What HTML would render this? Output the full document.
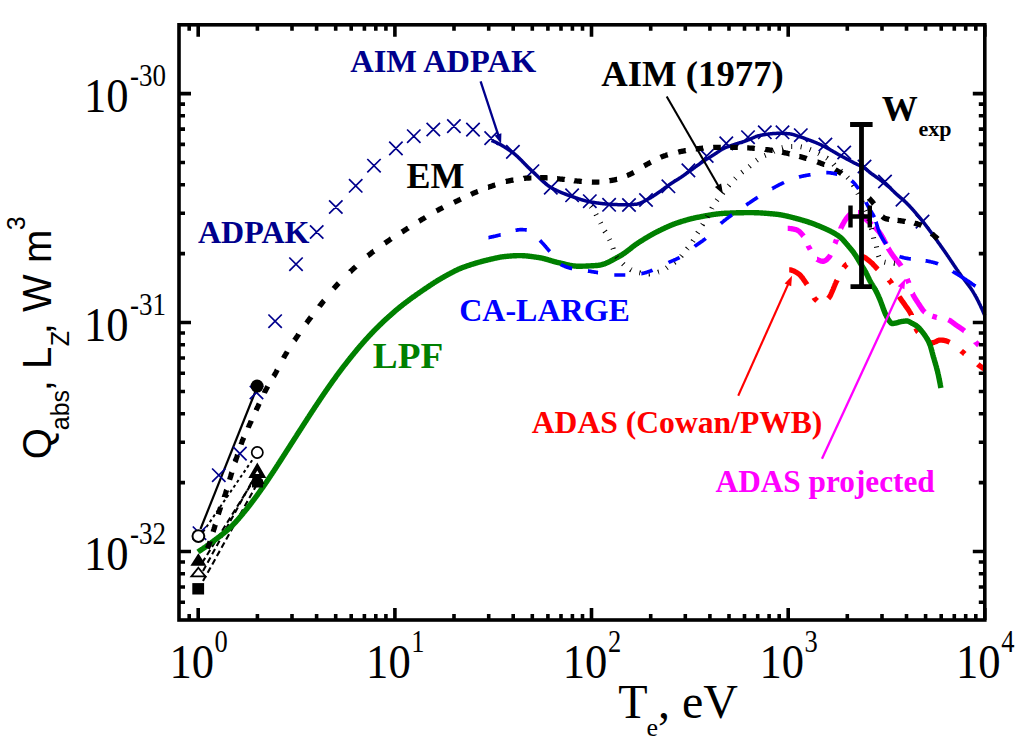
<!DOCTYPE html>
<html><head><meta charset="utf-8"><title>Radiated power</title>
<style>
html,body{margin:0;padding:0;background:#fff;width:1024px;height:746px;overflow:hidden}
svg{display:block}
</style></head>
<body>
<svg width="1024" height="746" viewBox="0 0 1024 746">
<rect width="1024" height="746" fill="#fff"/>
<path d="M200.5 529L256 390" stroke="#000" stroke-width="2.2" fill="none"/>
<path d="M203 532L253 459" stroke="#000" stroke-width="2" stroke-dasharray="3 3" fill="none"/>
<path d="M202 563L255 478" stroke="#000" stroke-width="2.1" stroke-dasharray="6 3.5" fill="none"/>
<path d="M203 571L255 476" stroke="#000" stroke-width="2.1" stroke-dasharray="6 3.5" fill="none"/>
<path d="M203 581L256 486" stroke="#000" stroke-width="2.1" stroke-dasharray="6 3.5" fill="none"/>
<path d="M789.2 269.8L789.2 269.8L789.5 269.8L789.7 269.8L789.9 269.8L790.2 269.9L790.4 269.9L790.7 269.9L790.9 270L791.2 270.1L791.4 270.1L791.7 270.2L791.9 270.3L792.1 270.3L792.4 270.4L792.6 270.5L792.8 270.6L793.1 270.7L793.3 270.8L793.5 270.9L793.8 271L794 271.1L794.2 271.2L794.4 271.3L794.7 271.5L794.9 271.6L795.1 271.7L795.3 271.8L795.5 271.9L795.8 272.1L796 272.2L796.2 272.3L796.4 272.4L796.6 272.6L796.8 272.7L797 272.8L797.3 272.9L797.5 273.1L797.7 273.2L797.9 273.3L798.1 273.5L798.3 273.6L798.5 273.8L798.7 273.9L798.9 274.1L799.1 274.2L799.3 274.4L799.5 274.6L799.7 274.7L799.9 274.9L800 275.1L800.2 275.3L800.4 275.4L800.6 275.6L800.7 275.8L800.9 276L801 276.2L801.2 276.4L801.4 276.6L801.5 276.8L801.7 277L801.8 277.2L802 277.3L802.2 277.5L802.3 277.7L802.5 277.9L802.6 278.1L802.8 278.3L802.9 278.5L803.1 278.8L803.2 279L803.3 279.2L803.5 279.4L803.6 279.6L803.8 279.8L803.9 280L804.1 280.2L804.2 280.4L804.3 280.6L804.5 280.8L804.6 281L804.8 281.2L804.9 281.4L805.1 281.6L805.2 281.8L805.3 282L805.5 282.3L805.6 282.5L805.8 282.7L805.9 282.9L806 283.1L806.2 283.3L806.3 283.5L806.5 283.7L806.6 283.9L806.7 284.1L806.9 284.3L807 284.5M828.3 298.5L828.4 298.4L828.6 298.2L828.7 298L828.9 297.8L829 297.6L829.2 297.4L829.3 297.2L829.5 297L829.6 296.8L829.7 296.6L829.9 296.4L830 296.2L830.1 295.9L830.2 295.7L830.3 295.5L830.5 295.3L830.6 295L830.7 294.8L830.8 294.6L830.9 294.4L831 294.1L831.1 293.9L831.2 293.7L831.3 293.5L831.4 293.2L831.5 293L831.6 292.8L831.7 292.6L831.8 292.3L831.9 292.1L832 291.9L832.1 291.6L832.2 291.4L832.3 291.2L832.4 290.9L832.5 290.7L832.6 290.5L832.7 290.3L832.8 290L832.9 289.8L833 289.6L833.1 289.3L833.2 289.1L833.3 288.9L833.4 288.6L833.5 288.4L833.6 288.2L833.7 287.9L833.8 287.7L833.9 287.5L834 287.2L834.1 287L834.1 286.8L834.2 286.5L834.3 286.3L834.4 286.1L834.5 285.8L834.6 285.6L834.7 285.4L834.8 285.1L834.9 284.9L835 284.7L835.1 284.5L835.2 284.2L835.3 284L835.4 283.8L835.5 283.5L835.6 283.3L835.7 283.1L835.8 282.8L835.9 282.6L836 282.4L836.1 282.2L836.2 281.9L836.3 281.7L836.4 281.5L836.5 281.3L836.6 281L836.7 280.8L836.9 280.6L837 280.4L837.1 280.1L837.1 280.1M862 256.8L862 256.8L862.3 256.8L862.5 256.8L862.8 256.8L863 256.8L863.3 256.9L863.5 256.9L863.7 257L864 257.1L864.2 257.2L864.4 257.3L864.7 257.4L864.9 257.5L865.1 257.6L865.3 257.8L865.5 257.9L865.7 258L865.9 258.2L866.1 258.3L866.3 258.5L866.5 258.6L866.7 258.8L866.9 259L867.1 259.1L867.3 259.3L867.5 259.4L867.7 259.6L867.9 259.8L868.1 259.9L868.3 260.1L868.5 260.2L868.7 260.4L868.8 260.6L869 260.7L869.2 260.9L869.4 261L869.6 261.2L869.8 261.4L870 261.5L870.2 261.7L870.4 261.8L870.6 262L870.8 262.1L871 262.3L871.2 262.5L871.3 262.6L871.5 262.8L871.7 263L871.9 263.2L872.1 263.3L872.2 263.5L872.4 263.7L872.6 263.9L872.8 264L872.9 264.2L873.1 264.4L873.3 264.6L873.5 264.8L873.6 265L873.8 265.1L874 265.3L874.1 265.5L874.3 265.7L874.5 265.9L874.7 266.1L874.8 266.2L875 266.4L875.2 266.6L875.3 266.8L875.5 267L875.7 267.2L875.8 267.4L876 267.5L876.2 267.7L876.4 267.9L876.5 268.1L876.7 268.3L876.9 268.4L877 268.6L877.2 268.8L877.4 269L877.6 269.2L877.7 269.3L877.8 269.4M899.1 296.6L899.1 296.6L899.3 296.9L899.4 297.1L899.5 297.3L899.7 297.5L899.8 297.7L900 297.9L900.1 298.1L900.2 298.3L900.4 298.5L900.5 298.7L900.7 298.9L900.8 299.1L901 299.3L901.1 299.5L901.3 299.7L901.4 299.9L901.5 300.2L901.7 300.4L901.8 300.6L902 300.8L902.1 301L902.3 301.2L902.4 301.4L902.6 301.6L902.7 301.8L902.9 302L903 302.2L903.2 302.4L903.3 302.6L903.5 302.8L903.6 303L903.7 303.2L903.9 303.4L904 303.6L904.2 303.8L904.3 304L904.5 304.2L904.6 304.4L904.8 304.6L904.9 304.8L905 305L905.2 305.3L905.3 305.5L905.5 305.7L905.6 305.9L905.7 306.1L905.9 306.3L906 306.5L906.2 306.7L906.3 306.9L906.5 307.1L906.6 307.3L906.8 307.5L906.9 307.7L907 307.9L907.2 308.1L907.3 308.3L907.5 308.5L907.6 308.7L907.8 308.9L907.9 309.1L908.1 309.4L908.2 309.6L908.3 309.8L908.5 310L908.6 310.2L908.8 310.4L908.9 310.6L909 310.8L909.2 311L909.3 311.2L909.4 311.4L909.6 311.7L909.7 311.9L909.8 312.1L909.9 312.3L910.1 312.5L910.2 312.7L910.3 313L910.4 313.2L910.6 313.4L910.7 313.6L910.8 313.8L910.9 314.1L911 314.3L911.1 314.5L911.3 314.7L911.4 314.9L911.4 315M930.8 342.8L931 342.9L931.2 342.9L931.5 342.9L931.7 342.9L932 342.9L932.2 342.8L932.5 342.8L932.7 342.7L933 342.7L933.2 342.6L933.4 342.5L933.7 342.4L933.9 342.4L934.1 342.3L934.4 342.2L934.6 342.1L934.9 342L935.1 342L935.3 341.9L935.6 341.8L935.8 341.7L936 341.6L936.2 341.5L936.5 341.4L936.7 341.2L936.9 341.1L937.1 341L937.3 340.9L937.6 340.8L937.8 340.7L938 340.5L938.2 340.4L938.5 340.3L938.7 340.3L938.9 340.2L939.2 340.1L939.4 340.1L939.7 340L939.9 340L940.2 340L940.4 340L940.7 340L940.9 340L941.2 340L941.4 340.1L941.7 340.1L941.9 340.1L942.2 340.1L942.4 340.2L942.7 340.2L942.9 340.2L943.2 340.3L943.4 340.3L943.7 340.4L943.9 340.4L944.2 340.4L944.4 340.5L944.7 340.5L944.9 340.6L945.1 340.6L945.4 340.7L945.6 340.7L945.9 340.8L946.1 340.9L946.4 340.9L946.6 341L946.8 341.1L947.1 341.2L947.3 341.3L947.5 341.4L947.8 341.5L948 341.6L948.2 341.7L948.5 341.8L948.7 341.9L948.9 342L949.1 342.1L949.4 342.2L949.6 342.3L949.6 342.3M977.8 364.4L977.9 364.5L978.1 364.7L978.3 364.8L978.5 364.9L978.7 365.1L978.9 365.2L979.1 365.4L979.4 365.5L979.6 365.7L979.8 365.8L980 366L980.2 366.1L980.4 366.3L980.6 366.4L980.8 366.6L981 366.7L981.2 366.8L981.4 367L981.6 367.1L981.8 367.3L982 367.4L982.2 367.6L982.4 367.7L982.6 367.8L982.8 368L983 368.1L983.3 368.3L983.5 368.4L983.7 368.5L983.9 368.7L984.1 368.8L984.3 369L984.5 369.1L984.5 369.1M814 297.6L814.1 297.8L814.2 298L814.4 298.2L814.5 298.4L814.7 298.6L814.9 298.8L815 298.9L815.2 299.1L815.4 299.3L815.6 299.5L815.8 299.6L816 299.8L816.1 300L816.3 300.1L816.5 300.3L816.7 300.4L816.9 300.6L817.1 300.8M843.8 267.6L844 267.4L844.1 267.1L844.3 266.9L844.4 266.7L844.6 266.6L844.7 266.4L844.9 266.2L845 266L845.2 265.8L845.4 265.6L845.6 265.4L845.7 265.2L845.9 265.1L846.1 264.9L846.2 264.7L846.4 264.5L846.6 264.3L846.8 264.2M889.1 280L889.2 280.2L889.4 280.3L889.5 280.5L889.7 280.7L889.9 280.9L890 281.1L890.2 281.3L890.3 281.5L890.5 281.7L890.7 281.9L890.8 282.1L891 282.3L891.1 282.5L891.2 282.7L891.4 282.9L891.5 283.1L891.7 283.3L891.8 283.5M915.9 328.2L916 328.4L916.1 328.7L916.2 328.9L916.3 329.1L916.4 329.4L916.5 329.6L916.6 329.8L916.7 330L916.8 330.3L917 330.5L917.1 330.7L917.2 330.9L917.4 331.1L917.5 331.3L917.6 331.5L917.8 331.7L917.9 331.9L918.1 332.1M961.2 350.9L961.4 351.1L961.6 351.3L961.8 351.4L962 351.6L962.2 351.7L962.4 351.9L962.6 352.1L962.8 352.2L963 352.4L963.2 352.5L963.4 352.7L963.5 352.8L963.7 353L963.9 353.1L964.1 353.3L964.3 353.5L964.5 353.6L964.7 353.8" fill="none" stroke="#ff0000" stroke-width="5.2"/>
<path d="M198 551.9L198.4 551.6L198.8 551.4L199.3 551.1L199.7 550.8L200.1 550.5L200.5 550.3L200.9 550L201.3 549.7L201.8 549.4L202.2 549.1L202.6 548.9L203 548.6L203.4 548.3L203.8 548L204.2 547.7L204.7 547.5L205.1 547.2L205.5 546.9L205.9 546.6L206.3 546.3L206.7 546L207.1 545.7L207.5 545.4L207.9 545.2L208.3 544.9L208.8 544.6L209.2 544.3L209.6 544L210 543.7L210.4 543.4L210.8 543.1L211.2 542.8L211.6 542.5L212 542.2L212.4 541.9L212.8 541.6L213.2 541.3L213.6 541L214 540.7L214.4 540.4L214.8 540.1L215.2 539.8L215.6 539.5L216 539.2L216.4 538.9L216.8 538.6L217.2 538.3L217.6 538L218 537.7L218.4 537.4L218.8 537.1L219.2 536.8L219.6 536.5L220 536.2L220.4 535.9L220.8 535.6L221.2 535.3L221.5 534.9L221.9 534.6L222.3 534.3L222.7 534L223.1 533.7L223.5 533.4L223.9 533.1L224.3 532.7L224.7 532.4L225 532.1L225.4 531.8L225.8 531.5L226.2 531.1L226.6 530.8L226.9 530.5L227.3 530.2L227.7 529.8L228.1 529.5L228.4 529.2L228.8 528.8L229.2 528.5L229.6 528.1L229.9 527.8L230.3 527.5L230.7 527.1L231 526.8L231.4 526.4L231.7 526.1L232.1 525.7L232.5 525.4L232.8 525L233.2 524.7L233.5 524.3L233.9 523.9L234.2 523.6L234.5 523.2L234.9 522.9L235.2 522.5L235.6 522.1L235.9 521.8L236.2 521.4L236.6 521L236.9 520.6L237.2 520.3L237.6 519.9L237.9 519.5L238.2 519.1L238.6 518.8L238.9 518.4L239.2 518L239.5 517.6L239.9 517.2L240.2 516.9L240.5 516.5L240.8 516.1L241.2 515.7L241.5 515.3L241.8 514.9L242.1 514.6L242.4 514.2L242.8 513.8L243.1 513.4L243.4 513L243.7 512.6L244 512.2L244.4 511.9L244.7 511.5L245 511.1L245.3 510.7L245.6 510.3L245.9 509.9L246.2 509.5L246.6 509.1L246.9 508.8L247.2 508.4L247.5 508L247.8 507.6L248.1 507.2L248.4 506.8L248.8 506.4L249.1 506L249.4 505.6L249.7 505.2L250 504.8L250.3 504.4L250.6 504L250.9 503.6L251.2 503.2L251.5 502.8L251.8 502.4L252.1 502L252.4 501.6L252.7 501.2L253 500.8L253.3 500.4L253.6 500L253.9 499.6L254.2 499.2L254.5 498.8L254.8 498.4L255.1 498L255.4 497.6L255.7 497.2L256 496.8L256.3 496.4L256.6 496L256.9 495.6L257.2 495.2L257.5 494.8L257.7 494.4L258 494L258.3 493.6L258.6 493.2L258.9 492.8L259.2 492.3L259.5 491.9L259.8 491.5L260.1 491.1L260.4 490.7L260.7 490.3L260.9 489.9L261.2 489.5L261.5 489.1L261.8 488.7L262.1 488.3L262.4 487.9L262.7 487.5L263 487L263.3 486.6L263.5 486.2L263.8 485.8L264.1 485.4L264.4 485L264.7 484.6L265 484.2L265.2 483.7L265.5 483.3L265.8 482.9L266.1 482.5L266.4 482.1L266.7 481.7L266.9 481.3L267.2 480.9L267.5 480.4L267.8 480L268.1 479.6L268.3 479.2L268.6 478.8L268.9 478.4L269.2 477.9L269.4 477.5L269.7 477.1L270 476.7L270.3 476.3L270.5 475.9L270.8 475.4L271.1 475L271.4 474.6L271.7 474.2L271.9 473.8L272.2 473.4L272.5 472.9L272.8 472.5L273 472.1L273.3 471.7L273.6 471.3L273.9 470.8L274.1 470.4L274.4 470L274.7 469.6L275 469.2L275.2 468.8L275.5 468.3L275.8 467.9L276.1 467.5L276.3 467.1L276.6 466.7L276.9 466.2L277.1 465.8L277.4 465.4L277.7 465L278 464.6L278.2 464.1L278.5 463.7L278.8 463.3L279 462.9L279.3 462.5L279.6 462L279.9 461.6L280.1 461.2L280.4 460.8L280.7 460.4L280.9 459.9L281.2 459.5L281.5 459.1L281.8 458.7L282 458.2L282.3 457.8L282.6 457.4L282.8 457L283.1 456.6L283.4 456.1L283.6 455.7L283.9 455.3L284.2 454.9L284.5 454.5L284.7 454L285 453.6L285.3 453.2L285.5 452.8L285.8 452.3L286.1 451.9L286.3 451.5L286.6 451.1L286.9 450.7L287.2 450.2L287.4 449.8L287.7 449.4L288 449L288.2 448.6L288.5 448.1L288.8 447.7L289 447.3L289.3 446.9L289.6 446.4L289.9 446L290.1 445.6L290.4 445.2L290.7 444.8L290.9 444.3L291.2 443.9L291.5 443.5L291.7 443.1L292 442.7L292.3 442.2L292.6 441.8L292.8 441.4L293.1 441L293.4 440.5L293.6 440.1L293.9 439.7L294.2 439.3L294.4 438.9L294.7 438.4L295 438L295.3 437.6L295.5 437.2L295.8 436.8L296.1 436.3L296.3 435.9L296.6 435.5L296.9 435.1L297.1 434.6L297.4 434.2L297.7 433.8L298 433.4L298.2 433L298.5 432.5L298.8 432.1L299 431.7L299.3 431.3L299.6 430.9L299.8 430.4L300.1 430L300.4 429.6L300.7 429.2L300.9 428.8L301.2 428.3L301.5 427.9L301.7 427.5L302 427.1L302.3 426.6L302.6 426.2L302.8 425.8L303.1 425.4L303.4 425L303.6 424.5L303.9 424.1L304.2 423.7L304.5 423.3L304.7 422.9L305 422.4L305.3 422L305.5 421.6L305.8 421.2L306.1 420.8L306.4 420.3L306.6 419.9L306.9 419.5L307.2 419.1L307.4 418.7L307.7 418.2L308 417.8L308.3 417.4L308.5 417L308.8 416.6L309.1 416.1L309.3 415.7L309.6 415.3L309.9 414.9L310.2 414.5L310.4 414L310.7 413.6L311 413.2L311.3 412.8L311.5 412.4L311.8 411.9L312.1 411.5L312.4 411.1L312.6 410.7L312.9 410.3L313.2 409.9L313.5 409.4L313.7 409L314 408.6L314.3 408.2L314.6 407.8L314.8 407.3L315.1 406.9L315.4 406.5L315.7 406.1L315.9 405.7L316.2 405.3L316.5 404.8L316.8 404.4L317 404L317.3 403.6L317.6 403.2L317.9 402.8L318.2 402.3L318.4 401.9L318.7 401.5L319 401.1L319.3 400.7L319.5 400.3L319.8 399.8L320.1 399.4L320.4 399L320.7 398.6L320.9 398.2L321.2 397.8L321.5 397.3L321.8 396.9L322.1 396.5L322.3 396.1L322.6 395.7L322.9 395.3L323.2 394.9L323.5 394.4L323.7 394L324 393.6L324.3 393.2L324.6 392.8L324.9 392.4L325.2 392L325.4 391.6L325.7 391.1L326 390.7L326.3 390.3L326.6 389.9L326.9 389.5L327.2 389.1L327.4 388.7L327.7 388.3L328 387.9L328.3 387.4L328.6 387L328.9 386.6L329.2 386.2L329.4 385.8L329.7 385.4L330 385L330.3 384.6L330.6 384.2L330.9 383.8L331.2 383.4L331.5 382.9L331.8 382.5L332 382.1L332.3 381.7L332.6 381.3L332.9 380.9L333.2 380.5L333.5 380.1L333.8 379.7L334.1 379.3L334.4 378.9L334.7 378.5L335 378.1L335.3 377.7L335.6 377.3L335.8 376.9L336.1 376.4L336.4 376L336.7 375.6L337 375.2L337.3 374.8L337.6 374.4L337.9 374L338.2 373.6L338.5 373.2L338.8 372.8L339.1 372.4L339.4 372L339.7 371.6L340 371.2L340.3 370.8L340.6 370.4L340.9 370L341.2 369.6L341.5 369.2L341.8 368.8L342.1 368.4L342.4 368L342.7 367.6L343 367.2L343.3 366.8L343.6 366.4L343.9 366L344.2 365.6L344.6 365.2L344.9 364.8L345.2 364.4L345.5 364.1L345.8 363.7L346.1 363.3L346.4 362.9L346.7 362.5L347 362.1L347.3 361.7L347.6 361.3L347.9 360.9L348.2 360.5L348.6 360.1L348.9 359.7L349.2 359.3L349.5 358.9L349.8 358.5L350.1 358.2L350.4 357.8L350.7 357.4L351.1 357L351.4 356.6L351.7 356.2L352 355.8L352.3 355.4L352.6 355L352.9 354.6L353.3 354.3L353.6 353.9L353.9 353.5L354.2 353.1L354.5 352.7L354.8 352.3L355.2 351.9L355.5 351.6L355.8 351.2L356.1 350.8L356.4 350.4L356.8 350L357.1 349.6L357.4 349.2L357.7 348.9L358 348.5L358.4 348.1L358.7 347.7L359 347.3L359.3 346.9L359.7 346.6L360 346.2L360.3 345.8L360.6 345.4L361 345.1L361.3 344.7L361.6 344.3L362 343.9L362.3 343.5L362.6 343.2L362.9 342.8L363.3 342.4L363.6 342L363.9 341.7L364.3 341.3L364.6 340.9L364.9 340.5L365.3 340.2L365.6 339.8L365.9 339.4L366.3 339.1L366.6 338.7L367 338.3L367.3 337.9L367.6 337.6L368 337.2L368.3 336.8L368.6 336.5L369 336.1L369.3 335.7L369.7 335.4L370 335L370.4 334.6L370.7 334.3L371 333.9L371.4 333.5L371.7 333.2L372.1 332.8L372.4 332.5L372.8 332.1L373.1 331.7L373.5 331.4L373.8 331L374.2 330.7L374.5 330.3L374.9 329.9L375.2 329.6L375.6 329.2L375.9 328.9L376.3 328.5L376.6 328.2L377 327.8L377.3 327.5L377.7 327.1L378 326.8L378.4 326.4L378.8 326.1L379.1 325.7L379.5 325.4L379.8 325L380.2 324.7L380.5 324.3L380.9 324L381.3 323.6L381.6 323.3L382 322.9L382.4 322.6L382.7 322.2L383.1 321.9L383.4 321.5L383.8 321.2L384.2 320.9L384.5 320.5L384.9 320.2L385.3 319.8L385.6 319.5L386 319.2L386.4 318.8L386.7 318.5L387.1 318.1L387.5 317.8L387.9 317.5L388.2 317.1L388.6 316.8L389 316.5L389.3 316.1L389.7 315.8L390.1 315.5L390.5 315.1L390.8 314.8L391.2 314.5L391.6 314.1L392 313.8L392.3 313.5L392.7 313.1L393.1 312.8L393.5 312.5L393.8 312.2L394.2 311.8L394.6 311.5L395 311.2L395.4 310.9L395.7 310.5L396.1 310.2L396.5 309.9L396.9 309.6L397.3 309.2L397.7 308.9L398 308.6L398.4 308.3L398.8 308L399.2 307.6L399.6 307.3L400 307L400.4 306.7L400.8 306.4L401.2 306.1L401.5 305.8L401.9 305.5L402.3 305.1L402.7 304.8L403.1 304.5L403.5 304.2L403.9 303.9L404.3 303.6L404.7 303.3L405.1 303L405.5 302.7L405.9 302.4L406.3 302.1L406.7 301.8L407.1 301.5L407.5 301.2L407.9 300.9L408.3 300.6L408.7 300.3L409.1 300L409.5 299.7L409.9 299.4L410.3 299.1L410.7 298.8L411.1 298.5L411.5 298.2L411.9 297.9L412.3 297.6L412.7 297.3L413.1 297L413.5 296.7L414 296.5L414.4 296.2L414.8 295.9L415.2 295.6L415.6 295.3L416 295L416.4 294.7L416.8 294.4L417.2 294.1L417.6 293.9L418 293.6L418.5 293.3L418.9 293L419.3 292.7L419.7 292.4L420.1 292.1L420.5 291.9L420.9 291.6L421.3 291.3L421.7 291L422.2 290.7L422.6 290.4L423 290.2L423.4 289.9L423.8 289.6L424.2 289.3L424.6 289L425.1 288.8L425.5 288.5L425.9 288.2L426.3 287.9L426.7 287.6L427.1 287.4L427.5 287.1L428 286.8L428.4 286.5L428.8 286.2L429.2 286L429.6 285.7L430 285.4L430.5 285.1L430.9 284.8L431.3 284.6L431.7 284.3L432.1 284L432.5 283.7L433 283.5L433.4 283.2L433.8 282.9L434.2 282.7L434.6 282.4L435.1 282.1L435.5 281.8L435.9 281.6L436.3 281.3L436.8 281.1L437.2 280.8L437.6 280.5L438 280.3L438.5 280L438.9 279.8L439.3 279.5L439.8 279.2L440.2 279L440.6 278.7L441.1 278.5L441.5 278.2L441.9 278L442.4 277.7L442.8 277.5L443.2 277.2L443.7 277L444.1 276.7L444.5 276.5L445 276.2L445.4 276L445.8 275.7L446.3 275.5L446.7 275.3L447.2 275L447.6 274.8L448 274.5L448.5 274.3L448.9 274.1L449.4 273.8L449.8 273.6L450.2 273.4L450.7 273.1L451.1 272.9L451.6 272.7L452 272.4L452.5 272.2L452.9 272L453.3 271.7L453.8 271.5L454.2 271.3L454.7 271.1L455.1 270.8L455.6 270.6L456 270.4L456.5 270.2L456.9 270L457.4 269.8L457.8 269.5L458.3 269.3L458.8 269.1L459.2 268.9L459.7 268.7L460.1 268.5L460.6 268.4L461.1 268.2L461.5 268L462 267.8L462.5 267.6L462.9 267.4L463.4 267.3L463.9 267.1L464.3 266.9L464.8 266.7L465.3 266.6L465.7 266.4L466.2 266.2L466.7 266.1L467.2 265.9L467.6 265.7L468.1 265.6L468.6 265.4L469.1 265.3L469.5 265.1L470 265L470.5 264.8L471 264.7L471.4 264.5L471.9 264.3L472.4 264.2L472.9 264.1L473.3 263.9L473.8 263.8L474.3 263.6L474.8 263.5L475.3 263.3L475.7 263.2L476.2 263L476.7 262.9L477.2 262.8L477.7 262.6L478.1 262.5L478.6 262.3L479.1 262.2L479.6 262.1L480.1 261.9L480.6 261.8L481 261.7L481.5 261.5L482 261.4L482.5 261.3L483 261.1L483.5 261L483.9 260.9L484.4 260.7L484.9 260.6L485.4 260.5L485.9 260.4L486.4 260.3L486.8 260.1L487.3 260L487.8 259.9L488.3 259.8L488.8 259.7L489.3 259.6L489.8 259.5L490.3 259.3L490.7 259.2L491.2 259.1L491.7 259L492.2 258.9L492.7 258.8L493.2 258.7L493.7 258.6L494.2 258.4L494.6 258.3L495.1 258.2L495.6 258.1L496.1 258L496.6 257.9L497.1 257.8L497.6 257.7L498.1 257.6L498.6 257.5L499.1 257.4L499.5 257.3L500 257.2L500.5 257.1L501 257L501.5 256.9L502 256.9L502.5 256.8L503 256.7L503.5 256.7L504 256.6L504.5 256.6L505 256.5L505.5 256.5L506 256.4L506.5 256.4L507 256.3L507.5 256.3L508 256.2L508.5 256.2L509 256.1L509.5 256.1L510 256.1L510.5 256L511 256L511.5 255.9L512 255.9L512.5 255.9L513 255.8L513.5 255.8L514 255.8L514.5 255.7L515 255.7L515.5 255.7L516 255.7L516.5 255.7L517 255.6L517.5 255.6L518 255.6L518.5 255.6L519 255.6L519.5 255.6L520 255.6L520.5 255.6L521 255.6L521.5 255.6L522 255.6L522.5 255.7L523 255.7L523.5 255.7L524 255.8L524.5 255.8L525 255.8L525.5 255.9L526 255.9L526.5 255.9L527 256L527.5 256L528 256.1L528.5 256.2L529 256.2L529.5 256.3L529.9 256.3L530.4 256.4L530.9 256.4L531.4 256.5L531.9 256.6L532.4 256.6L532.9 256.7L533.4 256.8L533.9 256.9L534.4 256.9L534.9 257L535.4 257.1L535.9 257.1L536.4 257.2L536.9 257.3L537.4 257.4L537.9 257.4L538.4 257.5L538.9 257.6L539.4 257.7L539.9 257.7L540.4 257.8L540.8 257.9L541.3 258L541.8 258.1L542.3 258.2L542.8 258.3L543.3 258.5L543.8 258.6L544.3 258.7L544.7 258.8L545.2 259L545.7 259.1L546.2 259.2L546.7 259.4L547.2 259.5L547.6 259.6L548.1 259.8L548.6 259.9L549.1 260.1L549.5 260.2L550 260.4L550.5 260.5L551 260.7L551.5 260.8L551.9 260.9L552.4 261.1L552.9 261.2L553.4 261.4L553.9 261.5L554.3 261.6L554.8 261.8L555.3 261.9L555.8 262L556.3 262.2L556.8 262.3L557.3 262.4L557.7 262.5L558.2 262.6L558.7 262.7L559.2 262.8L559.7 262.9L560.2 263L560.7 263.2L561.2 263.3L561.6 263.4L562.1 263.5L562.6 263.6L563.1 263.7L563.6 263.9L564.1 264L564.6 264.1L565.1 264.2L565.5 264.3L566 264.4L566.5 264.6L567 264.7L567.5 264.8L568 264.9L568.5 265L569 265.1L569.4 265.2L569.9 265.3L570.4 265.4L570.9 265.5L571.4 265.6L571.9 265.7L572.4 265.7L572.9 265.8L573.4 265.9L573.9 265.9L574.4 266L574.9 266L575.4 266.1L575.9 266.1L576.4 266.2L576.9 266.2L577.4 266.2L577.9 266.2L578.4 266.2L578.9 266.2L579.4 266.2L579.9 266.2L580.4 266.2L580.9 266.2L581.4 266.2L581.9 266.2L582.4 266.2L582.9 266.1L583.4 266.1L583.9 266.1L584.4 266.1L584.9 266.1L585.4 266.1L585.9 266.1L586.4 266L586.9 266L587.4 266L587.9 266L588.4 266L588.9 265.9L589.4 265.9L589.9 265.9L590.4 265.9L590.9 265.8L591.4 265.8L591.9 265.8L592.4 265.8L592.9 265.7L593.4 265.7L593.9 265.7L594.4 265.6L594.9 265.6L595.4 265.6L595.9 265.5L596.4 265.5L596.9 265.5L597.4 265.4L597.9 265.4L598.4 265.3L598.9 265.3L599.4 265.2L599.9 265.1L600.4 265L600.8 264.9L601.3 264.8L601.8 264.7L602.3 264.5L602.8 264.4L603.3 264.2L603.7 264.1L604.2 263.9L604.7 263.8L605.1 263.6L605.6 263.4L606.1 263.2L606.5 263L607 262.8L607.4 262.6L607.9 262.4L608.3 262.2L608.8 262L609.2 261.7L609.7 261.5L610.1 261.3L610.6 261.1L611 260.8L611.5 260.6L611.9 260.4L612.4 260.1L612.8 259.9L613.2 259.6L613.7 259.4L614.1 259.2L614.6 258.9L615 258.7L615.4 258.4L615.9 258.2L616.3 257.9L616.7 257.7L617.2 257.5L617.6 257.2L618.1 257L618.5 256.7L618.9 256.5L619.4 256.3L619.8 256L620.3 255.8L620.7 255.5L621.1 255.3L621.5 255L622 254.8L622.4 254.5L622.8 254.2L623.2 253.9L623.6 253.7L624.1 253.4L624.5 253.1L624.9 252.8L625.3 252.5L625.7 252.2L626.1 251.9L626.5 251.6L626.9 251.3L627.3 251L627.7 250.7L628.1 250.4L628.5 250.1L628.9 249.8L629.3 249.5L629.7 249.2L630.1 248.9L630.5 248.6L630.9 248.3L631.2 247.9L631.6 247.6L632 247.3L632.4 247L632.8 246.7L633.2 246.4L633.6 246.1L634 245.8L634.4 245.5L634.8 245.2L635.2 244.9L635.6 244.6L636 244.3L636.4 244L636.9 243.7L637.3 243.5L637.7 243.2L638.1 242.9L638.5 242.6L638.9 242.3L639.3 242.1L639.8 241.8L640.2 241.5L640.6 241.3L641 241L641.5 240.7L641.9 240.5L642.3 240.2L642.7 239.9L643.2 239.7L643.6 239.4L644 239.2L644.4 238.9L644.9 238.6L645.3 238.4L645.7 238.1L646.2 237.9L646.6 237.6L647 237.3L647.4 237.1L647.9 236.8L648.3 236.6L648.7 236.3L649.2 236.1L649.6 235.8L650 235.6L650.5 235.3L650.9 235.1L651.3 234.8L651.8 234.6L652.2 234.4L652.7 234.1L653.1 233.9L653.5 233.6L654 233.4L654.4 233.2L654.9 232.9L655.3 232.7L655.7 232.5L656.2 232.2L656.6 232L657.1 231.8L657.5 231.5L658 231.3L658.4 231.1L658.9 230.9L659.3 230.6L659.8 230.4L660.2 230.2L660.7 230L661.1 229.8L661.6 229.6L662 229.3L662.5 229.1L662.9 228.9L663.4 228.7L663.8 228.5L664.3 228.3L664.7 228L665.2 227.8L665.6 227.6L666.1 227.4L666.6 227.2L667 227L667.5 226.8L667.9 226.6L668.4 226.4L668.8 226.2L669.3 226L669.8 225.8L670.2 225.6L670.7 225.4L671.1 225.2L671.6 225L672.1 224.8L672.5 224.6L673 224.5L673.5 224.3L673.9 224.1L674.4 223.9L674.9 223.7L675.3 223.6L675.8 223.4L676.3 223.2L676.7 223.1L677.2 222.9L677.7 222.7L678.2 222.6L678.6 222.4L679.1 222.3L679.6 222.1L680.1 222L680.5 221.8L681 221.6L681.5 221.5L682 221.3L682.5 221.2L682.9 221.1L683.4 220.9L683.9 220.8L684.4 220.6L684.9 220.5L685.3 220.3L685.8 220.2L686.3 220.1L686.8 219.9L687.3 219.8L687.7 219.7L688.2 219.5L688.7 219.4L689.2 219.3L689.7 219.1L690.2 219L690.6 218.9L691.1 218.8L691.6 218.6L692.1 218.5L692.6 218.4L693.1 218.3L693.6 218.2L694 218.1L694.5 218L695 217.8L695.5 217.7L696 217.6L696.5 217.5L697 217.4L697.5 217.3L698 217.2L698.5 217.2L699 217.1L699.4 217L699.9 216.9L700.4 216.8L700.9 216.7L701.4 216.6L701.9 216.5L702.4 216.4L702.9 216.3L703.4 216.2L703.9 216.1L704.4 216L704.9 215.9L705.3 215.8L705.8 215.8L706.3 215.7L706.8 215.6L707.3 215.5L707.8 215.4L708.3 215.3L708.8 215.2L709.3 215.1L709.8 215.1L710.3 215L710.8 214.9L711.3 214.8L711.8 214.7L712.2 214.7L712.7 214.6L713.2 214.5L713.7 214.4L714.2 214.4L714.7 214.3L715.2 214.2L715.7 214.2L716.2 214.1L716.7 214L717.2 214L717.7 213.9L718.2 213.9L718.7 213.8L719.2 213.7L719.7 213.7L720.2 213.6L720.7 213.6L721.2 213.6L721.7 213.5L722.2 213.5L722.7 213.4L723.2 213.4L723.7 213.4L724.2 213.3L724.7 213.3L725.2 213.3L725.7 213.3L726.2 213.2L726.7 213.2L727.2 213.2L727.7 213.2L728.2 213.2L728.7 213.1L729.2 213.1L729.7 213.1L730.2 213.1L730.7 213L731.2 213L731.7 213L732.2 213L732.7 213L733.2 213L733.7 212.9L734.2 212.9L734.7 212.9L735.2 212.9L735.7 212.9L736.2 212.8L736.7 212.8L737.2 212.8L737.7 212.8L738.2 212.8L738.7 212.8L739.2 212.8L739.7 212.7L740.2 212.7L740.7 212.7L741.2 212.7L741.7 212.7L742.2 212.7L742.7 212.7L743.2 212.7L743.7 212.7L744.2 212.6L744.7 212.6L745.2 212.6L745.7 212.6L746.2 212.6L746.7 212.6L747.2 212.6L747.7 212.6L748.2 212.6L748.7 212.6L749.2 212.6L749.7 212.6L750.2 212.6L750.7 212.6L751.2 212.6L751.7 212.6L752.2 212.6L752.7 212.6L753.2 212.6L753.7 212.6L754.2 212.7L754.7 212.7L755.2 212.7L755.7 212.7L756.2 212.7L756.7 212.7L757.2 212.8L757.7 212.8L758.2 212.8L758.7 212.8L759.2 212.9L759.7 212.9L760.2 212.9L760.7 212.9L761.2 213L761.7 213L762.2 213L762.7 213.1L763.2 213.1L763.7 213.1L764.2 213.2L764.7 213.2L765.2 213.2L765.7 213.3L766.2 213.3L766.7 213.4L767.2 213.4L767.7 213.4L768.2 213.5L768.7 213.5L769.2 213.6L769.7 213.6L770.2 213.7L770.7 213.7L771.2 213.7L771.7 213.8L772.2 213.8L772.7 213.9L773.2 213.9L773.7 214L774.2 214L774.7 214.1L775.2 214.1L775.7 214.2L776.2 214.2L776.7 214.3L777.2 214.3L777.7 214.4L778.1 214.5L778.6 214.5L779.1 214.6L779.6 214.7L780.1 214.8L780.6 214.8L781.1 214.9L781.6 215L782.1 215.1L782.6 215.2L783.1 215.3L783.6 215.4L784.1 215.5L784.6 215.6L785 215.7L785.5 215.8L786 215.9L786.5 216L787 216.1L787.5 216.2L788 216.4L788.5 216.5L788.9 216.6L789.4 216.7L789.9 216.8L790.4 216.9L790.9 217.1L791.4 217.2L791.9 217.3L792.3 217.4L792.8 217.6L793.3 217.7L793.8 217.8L794.3 218L794.8 218.1L795.2 218.2L795.7 218.3L796.2 218.5L796.7 218.6L797.2 218.7L797.7 218.9L798.1 219L798.6 219.1L799.1 219.3L799.6 219.4L800.1 219.5L800.6 219.7L801 219.8L801.5 219.9L802 220.1L802.5 220.2L803 220.3L803.4 220.5L803.9 220.6L804.4 220.8L804.9 220.9L805.4 221.1L805.8 221.2L806.3 221.4L806.8 221.5L807.3 221.7L807.7 221.8L808.2 222L808.7 222.1L809.2 222.3L809.6 222.5L810.1 222.6L810.6 222.8L811.1 223L811.5 223.1L812 223.3L812.5 223.5L812.9 223.6L813.4 223.8L813.9 224L814.3 224.2L814.8 224.3L815.3 224.5L815.7 224.7L816.2 224.9L816.7 225.1L817.1 225.3L817.6 225.4L818.1 225.6L818.5 225.8L819 226L819.5 226.2L819.9 226.4L820.4 226.6L820.8 226.8L821.3 227L821.8 227.2L822.2 227.4L822.7 227.6L823.1 227.8L823.6 228L824.1 228.2L824.5 228.4L825 228.6L825.4 228.8L825.9 229L826.3 229.2L826.8 229.4L827.3 229.6L827.7 229.8L828.2 230.1L828.6 230.3L829.1 230.5L829.5 230.7L830 230.9L830.4 231.1L830.9 231.4L831.3 231.6L831.7 231.8L832.2 232.1L832.6 232.3L833.1 232.5L833.5 232.8L833.9 233L834.4 233.3L834.8 233.5L835.2 233.8L835.7 234.1L836.1 234.3L836.5 234.6L836.9 234.9L837.3 235.1L837.8 235.4L838.2 235.7L838.6 236L839 236.3L839.4 236.6L839.8 236.9L840.2 237.2L840.6 237.5L841 237.8L841.3 238.1L841.7 238.5L842.1 238.8L842.4 239.2L842.8 239.6L843.1 239.9L843.4 240.3L843.8 240.7L844.1 241.1L844.4 241.4L844.7 241.8L845 242.2L845.4 242.6L845.7 243L846 243.4L846.3 243.7L846.7 244.1L847 244.5L847.3 244.9L847.7 245.2L848 245.6L848.3 246L848.6 246.4L849 246.8L849.3 247.1L849.6 247.5L849.9 247.9L850.3 248.3L850.6 248.7L850.9 249.1L851.2 249.4L851.5 249.8L851.8 250.2L852.1 250.6L852.5 251L852.8 251.4L853.1 251.8L853.4 252.2L853.7 252.6L853.9 253L854.2 253.4L854.5 253.8L854.8 254.3L855.1 254.7L855.4 255.1L855.6 255.5L855.9 255.9L856.2 256.4L856.4 256.8L856.7 257.2L857 257.6L857.2 258.1L857.5 258.5L857.7 258.9L858 259.3L858.3 259.8L858.5 260.2L858.8 260.6L859 261.1L859.3 261.5L859.5 261.9L859.8 262.3L860.1 262.8L860.3 263.2L860.6 263.6L860.9 264.1L861.1 264.5L861.4 264.9L861.6 265.3L861.9 265.8L862.2 266.2L862.4 266.6L862.7 267L862.9 267.5L863.2 267.9L863.5 268.3L863.7 268.8L864 269.2L864.2 269.6L864.5 270.1L864.7 270.5L865 270.9L865.2 271.4L865.4 271.8L865.7 272.2L865.9 272.7L866.1 273.1L866.4 273.6L866.6 274L866.8 274.5L867 274.9L867.3 275.4L867.5 275.8L867.7 276.3L867.9 276.7L868.1 277.2L868.3 277.6L868.6 278.1L868.8 278.5L869 279L869.2 279.4L869.4 279.9L869.7 280.3L869.9 280.8L870.1 281.2L870.4 281.6L870.6 282.1L870.9 282.5L871.1 282.9L871.4 283.4L871.7 283.8L871.9 284.2L872.2 284.6L872.4 285.1L872.7 285.5L873 285.9L873.2 286.3L873.5 286.8L873.8 287.2L874 287.6L874.3 288L874.6 288.5L874.8 288.9L875.1 289.3L875.3 289.8L875.5 290.2L875.8 290.7L876 291.1L876.2 291.5L876.5 292L876.7 292.4L876.9 292.9L877.1 293.3L877.3 293.8L877.6 294.2L877.8 294.7L878 295.2L878.2 295.6L878.4 296.1L878.6 296.5L878.8 297L879 297.4L879.2 297.9L879.4 298.4L879.6 298.8L879.8 299.3L880 299.7L880.2 300.2L880.4 300.7L880.5 301.1L880.7 301.6L880.9 302.1L881.1 302.5L881.3 303L881.4 303.5L881.6 303.9L881.8 304.4L882 304.9L882.1 305.3L882.3 305.8L882.5 306.3L882.6 306.8L882.8 307.2L883 307.7L883.1 308.2L883.3 308.6L883.5 309.1L883.7 309.6L883.8 310.1L884 310.5L884.2 311L884.4 311.5L884.6 311.9L884.7 312.4L884.9 312.8L885.1 313.3L885.3 313.8L885.5 314.2L885.7 314.7L886 315.1L886.2 315.6L886.4 316L886.6 316.5L886.9 316.9L887.1 317.4L887.3 317.8L887.6 318.2L887.8 318.7L888.1 319.1L888.3 319.5L888.6 320L888.9 320.4L889.2 320.8L889.5 321.2L889.8 321.6L890.1 322L890.4 322.4L890.7 322.7L891.1 323.1L891.5 323.4L892 323.5L892.5 323.5L893 323.5L893.5 323.4L894 323.3L894.5 323.3L895 323.2L895.5 323.1L895.9 323L896.4 322.9L896.9 322.8L897.4 322.7L897.9 322.5L898.4 322.3L898.8 322.2L899.3 322L899.8 321.9L900.3 321.8L900.8 321.7L901.3 321.6L901.8 321.5L902.2 321.4L902.7 321.4L903.2 321.3L903.7 321.2L904.2 321.2L904.7 321.1L905.2 321.1L905.7 321L906.2 321L906.7 321L907.2 321L907.7 321.1L908.2 321.3L908.7 321.5L909.1 321.7L909.5 321.9L910 322.2L910.4 322.4L910.9 322.7L911.3 322.9L911.7 323.2L912.2 323.4L912.6 323.6L913.1 323.8L913.5 324L914 324.3L914.4 324.5L914.9 324.7L915.3 325L915.7 325.2L916.1 325.5L916.5 325.8L916.9 326.1L917.3 326.4L917.7 326.8L918.1 327.1L918.4 327.5L918.8 327.8L919.1 328.2L919.5 328.5L919.8 328.9L920.1 329.3L920.5 329.7L920.8 330L921.1 330.4L921.4 330.8L921.7 331.2L922.1 331.6L922.4 332L922.7 332.4L923 332.8L923.3 333.2L923.6 333.6L923.9 334L924.2 334.4L924.5 334.8L924.8 335.2L925 335.6L925.3 336L925.6 336.4L925.9 336.9L926.2 337.3L926.4 337.7L926.7 338.1L926.9 338.5L927.2 339L927.4 339.4L927.7 339.9L927.9 340.3L928.2 340.7L928.4 341.2L928.6 341.6L928.8 342.1L929 342.5L929.2 343L929.4 343.5L929.6 343.9L929.8 344.4L930 344.9L930.2 345.3L930.3 345.8L930.5 346.3L930.6 346.7L930.8 347.2L930.9 347.7L931.1 348.2L931.2 348.7L931.3 349.2L931.5 349.6L931.6 350.1L931.7 350.6L931.9 351.1L932 351.6L932.1 352L932.2 352.5L932.4 353L932.5 353.5L932.6 354L932.8 354.5L932.9 354.9L933 355.4L933.2 355.9L933.3 356.4L933.4 356.9L933.6 357.4L933.7 357.8L933.9 358.3L934 358.8L934.1 359.3L934.3 359.8L934.4 360.2L934.6 360.7L934.7 361.2L934.8 361.7L935 362.2L935.1 362.6L935.3 363.1L935.4 363.6L935.5 364.1L935.7 364.6L935.8 365L936 365.5L936.1 366L936.2 366.5L936.4 367L936.5 367.5L936.6 367.9L936.7 368.4L936.9 368.9L937 369.4L937.1 369.9L937.2 370.4L937.4 370.8L937.5 371.3L937.6 371.8L937.7 372.3L937.8 372.8L937.9 373.3L938.1 373.8L938.2 374.3L938.3 374.7L938.4 375.2L938.5 375.7L938.6 376.2L938.7 376.7L938.8 377.2L938.9 377.7L939 378.2L939.1 378.7L939.2 379.2L939.3 379.6L939.4 380.1L939.5 380.6L939.6 381.1L939.7 381.6L939.8 382.1L939.9 382.6L940 383.1L940.1 383.6L940.2 384.1L940.3 384.6L940.4 385L940.4 385.5L940.5 386L940.6 386.5L940.7 387L940.8 387.5L940.9 388" fill="none" stroke="#008000" stroke-width="5.4" stroke-linejoin="round"/>
<path d="M787.7 228.4L787.7 228.4L788 228.4L788.2 228.4L788.5 228.4L788.7 228.4L789 228.4L789.2 228.5L789.4 228.5L789.7 228.5L789.9 228.5L790.2 228.5L790.4 228.6L790.7 228.6L790.9 228.6L791.2 228.7L791.4 228.7L791.7 228.7L791.9 228.8L792.2 228.8L792.4 228.9L792.7 228.9L792.9 229L793.2 229L793.4 229.1L793.6 229.1L793.9 229.2L794.1 229.2L794.4 229.3L794.6 229.4L794.9 229.4L795.1 229.5L795.3 229.5L795.6 229.6L795.8 229.7L796.1 229.7L796.3 229.8L796.6 229.9L796.8 230L797 230L797.3 230.1L797.5 230.3L797.7 230.4L797.9 230.5L798.1 230.6L798.3 230.8L798.5 230.9L798.7 231.1L798.9 231.2L799.1 231.4L799.3 231.5L799.5 231.7L799.7 231.9L799.9 232L800.1 232.2L800.2 232.4L800.4 232.6L800.6 232.8L800.8 232.9L800.9 233.1L801.1 233.3L801.3 233.5L801.4 233.7L801.6 233.9L801.8 234.1L801.9 234.2L802.1 234.4L802.2 234.6L802.4 234.8L802.6 235L802.7 235.2L802.9 235.4L803 235.6L803.2 235.8L803.3 236L803.5 236.2L803.5 236.2M817 259.3L817.1 259.3L817.3 259.4L817.5 259.6L817.7 259.7L818 259.8L818.2 259.9L818.4 260L818.6 260.1L818.9 260.2L819.1 260.3L819.3 260.4L819.6 260.5L819.8 260.6L820 260.7L820.3 260.8L820.5 260.8L820.7 260.9L821 261L821.2 261.1L821.5 261.1L821.7 261.2L822 261.2L822.2 261.2L822.5 261.3L822.7 261.3L823 261.3L823.2 261.3L823.5 261.3L823.7 261.2L823.9 261.2L824.2 261.1L824.4 261L824.6 260.9L824.9 260.8L825.1 260.7L825.3 260.6L825.5 260.4L825.7 260.3L825.9 260.1L826.1 260L826.3 259.8L826.5 259.7L826.7 259.5L826.9 259.3L827.1 259.2L827.2 259L827.4 258.8L827.6 258.6L827.8 258.5L828 258.3L828.1 258.1L828.3 257.9L828.5 257.7L828.7 257.6L828.8 257.4L829 257.2L829.2 257L829.3 256.8L829.5 256.6L829.6 256.4L829.8 256.2L829.9 256L830 255.8L830.1 255.6L830.3 255.3L830.4 255.1L830.5 254.9M840.8 228.4L840.8 228.3L840.9 228.1L841.1 227.9L841.2 227.6L841.3 227.4L841.4 227.2L841.5 227L841.6 226.7L841.7 226.5L841.8 226.3L841.9 226.1L842 225.8L842.2 225.6L842.3 225.4L842.4 225.2L842.5 225L842.6 224.7L842.7 224.5L842.8 224.3L843 224.1L843.1 223.8L843.2 223.6L843.3 223.4L843.4 223.2L843.5 223L843.7 222.7L843.8 222.5L843.9 222.3L844 222.1L844.2 221.9L844.3 221.7L844.4 221.4L844.5 221.2L844.7 221L844.8 220.8L844.9 220.6L845.1 220.4L845.2 220.2L845.3 220L845.5 219.7L845.6 219.5L845.8 219.3L845.9 219.1L846.1 218.9L846.2 218.7L846.4 218.5L846.5 218.3L846.7 218.1L846.8 217.9L847 217.8L847.1 217.6L847.3 217.4L847.5 217.2L847.6 217L847.8 216.8L847.9 216.6L848.1 216.4L848.3 216.2L848.4 216L848.6 215.8L848.8 215.6L848.9 215.5L849.1 215.3L849.3 215.1L849.4 214.9L849.6 214.7L849.8 214.6L850 214.4L850.2 214.2L850.4 214.1L850.6 213.9L850.8 213.8L851 213.6L851.2 213.5L851.4 213.4L851.6 213.3L851.9 213.2L852 213.2M858 212.5L858.1 212.5L858.3 212.5L858.6 212.6L858.8 212.6L859 212.7L859.3 212.8L859.5 213L859.7 213.1L859.9 213.2L860 213.3M862 215.2L862.1 215.3L862.2 215.5L862.4 215.7L862.6 215.9L862.7 216.1L862.9 216.3L863.1 216.4L863.2 216.6L863.4 216.8L863.5 217L863.7 217.2L863.9 217.4L864 217.6L864.2 217.8L864.4 218L864.5 218.1L864.7 218.3L864.9 218.5L865.1 218.7L865.2 218.9L865.4 219L865.6 219.2L865.8 219.4L866 219.5L866.2 219.7L866.4 219.9L866.5 220L866.7 220.2L866.9 220.4L867.1 220.5L867.3 220.7L867.5 220.8L867.7 221L867.9 221.2L868.1 221.3L868.3 221.5L868.5 221.6L868.6 221.8L868.8 222L869 222.1L869.2 222.3L869.4 222.4L869.6 222.6L869.8 222.8L870 222.9L870.2 223.1L870.4 223.2L870.6 223.4L870.8 223.6L870.9 223.7L871.1 223.9L871.3 224.1L871.5 224.2L871.7 224.4L871.9 224.6L872 224.7M874.3 226.8L874.4 226.9L874.6 227.1L874.8 227.3L875 227.5L875.2 227.7L875.3 227.8L875.5 228L875.7 228.2L875.9 228.4L876 228.5L876.2 228.7L876.4 228.9L876.6 229.1L876.7 229.3L876.9 229.5L877.1 229.6L877.2 229.8L877.4 230L877.6 230.2L877.7 230.4L877.9 230.6L878.1 230.8L878.2 230.9L878.4 231.1L878.5 231.3L878.7 231.5L878.9 231.7L879 231.9L879.2 232.1L879.3 232.3L879.5 232.5L879.6 232.7L879.8 232.9L879.9 233.1L880.1 233.3L880.2 233.5L880.4 233.7L880.5 233.9L880.6 234.1L880.8 234.3L880.9 234.6L881.1 234.8L881.2 235L881.3 235.2L881.4 235.4L881.6 235.6L881.7 235.8L881.8 236L882 236.3L882.1 236.5L882.2 236.7L882.3 236.9L882.5 237.1L882.6 237.4L882.7 237.6L882.8 237.8L882.9 238L883.1 238.2L883.2 238.5L883.3 238.7L883.4 238.9L883.5 239.1L883.6 239.3L883.8 239.6L883.9 239.8L884 240L884.1 240.2L884.2 240.4L884.3 240.7L884.5 240.9L884.6 241.1L884.7 241.3L884.8 241.5L884.9 241.8L885 242L885.2 242.2L885.3 242.4L885.4 242.7L885.5 242.9L885.6 243.1L885.7 243.3L885.9 243.5L886 243.8L886.1 244L886.1 244M888.3 248.3L888.4 248.4L888.5 248.7L888.6 248.9L888.8 249.1L888.9 249.3L889 249.5L889.1 249.7L889.3 249.9L889.4 250.2L889.5 250.4L889.7 250.6L889.8 250.8L889.9 251L890.1 251.2L890.2 251.4L890.3 251.6L890.5 251.9L890.6 252.1L890.7 252.3L890.9 252.5L891 252.7L891.1 252.9L891.3 253.1L891.4 253.3L891.6 253.5L891.7 253.7L891.8 253.9L892 254.1L892.1 254.4L892.3 254.6L892.4 254.8L892.6 255L892.7 255.2L892.8 255.4L893 255.6L893.1 255.8L893.3 256L893.4 256.2L893.6 256.4L893.7 256.6L893.9 256.8L894 257L894.2 257.2L894.3 257.4L894.5 257.6L894.6 257.8L894.8 258L894.9 258.2L895.1 258.4L895.2 258.6L895.4 258.8L895.5 259L895.7 259.2L895.9 259.4L896 259.6L896.2 259.7L896.4 259.9L896.5 260.1L896.7 260.3L896.8 260.5L897 260.7L897.2 260.9L897.3 261.1L897.5 261.3L897.7 261.4L897.8 261.6L898 261.8L898.2 262L898.3 262.2L898.5 262.4L898.6 262.6L898.8 262.8L899 263L899.1 263.2L899.3 263.4L899.4 263.6L899.6 263.8L899.7 264L899.9 264.2L900 264.4L900.2 264.6L900.3 264.8L900.4 265L900.6 265.2L900.7 265.4L900.9 265.6L901 265.8L901.1 266M912.5 293.6L912.6 293.7L912.7 294L912.8 294.2L912.9 294.4L913 294.6L913.1 294.9L913.2 295.1L913.4 295.3L913.5 295.5L913.6 295.8L913.7 296L913.8 296.2L914 296.4L914.1 296.6L914.2 296.9L914.3 297.1L914.4 297.3L914.6 297.5L914.7 297.7L914.8 297.9L915 298.1L915.1 298.4L915.2 298.6L915.4 298.8L915.5 299L915.6 299.2L915.8 299.4L915.9 299.6L916 299.8L916.2 300L916.3 300.3L916.4 300.5L916.6 300.7L916.7 300.9L916.9 301.1L917 301.3L917.1 301.5L917.3 301.7L917.4 301.9L917.6 302.1L917.7 302.3L917.8 302.5L918 302.7L918.1 302.9L918.3 303.2L918.4 303.4L918.5 303.6L918.7 303.8L918.8 304L919 304.2L919.1 304.4L919.2 304.6L919.4 304.8L919.5 305L919.6 305.3L919.8 305.5L919.9 305.7L920 305.9L920.2 306.1L920.3 306.3L920.4 306.5L920.6 306.7L920.7 306.9L920.8 307.2L921 307.4L921.1 307.6L921.2 307.8L921.4 308L921.5 308.2L921.7 308.4L921.8 308.6L921.9 308.8L922.1 309L922.2 309.2L922.4 309.4L922.5 309.6L922.7 309.8L922.8 310L923 310.2L923.1 310.4L923.3 310.6L923.5 310.8L923.6 311L923.8 311.2L924 311.4L924.1 311.5L924.3 311.7L924.5 311.9L924.7 312L924.8 312.1M948.3 319.8L948.5 319.9L948.7 320L948.9 320.1L949.2 320.2L949.4 320.3L949.6 320.4L949.8 320.5L950.1 320.6L950.3 320.8L950.5 320.9L950.7 321L950.9 321.2L951.1 321.3L951.3 321.5L951.5 321.6L951.7 321.8L951.9 321.9L952.1 322.1L952.3 322.2L952.5 322.4L952.7 322.5L952.9 322.7L953.1 322.8L953.3 323L953.5 323.1L953.7 323.3L953.9 323.4L954.1 323.6L954.3 323.7L954.5 323.9L954.7 324L954.9 324.2L955.1 324.3L955.3 324.5L955.5 324.6L955.7 324.8L955.9 324.9L956.1 325.1L956.3 325.2L956.5 325.4L956.7 325.5L956.9 325.6L957.1 325.8L957.4 325.9L957.6 326.1L957.8 326.2L958 326.3L958.2 326.5L958.4 326.6L958.6 326.7L958.8 326.9L959 327L959.2 327.2L959.4 327.3L959.6 327.4L959.9 327.6L960.1 327.7L960.3 327.9L960.5 328L960.7 328.1L960.9 328.3L961.1 328.4L961.3 328.6L961.5 328.7L961.7 328.9L961.9 329L962.1 329.2L962.3 329.3L962.5 329.4L962.7 329.6L962.9 329.7L963.1 329.9L963.3 330L963.5 330.2L963.7 330.4L963.9 330.5L964.1 330.7L964.3 330.8L964.4 330.9M808.1 245.6L808.2 245.9L808.3 246.1L808.4 246.3L808.5 246.5L808.6 246.8L808.8 247L808.9 247.2L809 247.4L809.1 247.6L809.2 247.8L809.4 248.1L809.5 248.3L809.6 248.5L809.7 248.7L809.9 248.9L810 249.2L810.1 249.4L810.2 249.6M834.9 243.7L835 243.5L835.1 243.3L835.2 243L835.3 242.8L835.4 242.6L835.4 242.3L835.5 242.1L835.6 241.9L835.7 241.6L835.8 241.4L835.9 241.2L836 240.9L836.1 240.7L836.2 240.5L836.3 240.2L836.4 240L836.5 239.8L836.5 239.5M907.2 278.9L907.3 279.2L907.4 279.4L907.4 279.6L907.5 279.9L907.6 280.1L907.7 280.3L907.8 280.6L907.9 280.8L908 281L908.1 281.3L908.2 281.5L908.3 281.7L908.4 282L908.5 282.2L908.6 282.4L908.6 282.7L908.7 282.9L908.8 283.1M932.4 316.1L932.7 316.2L932.9 316.3L933.1 316.3L933.4 316.4L933.6 316.5L933.9 316.6L934.1 316.6L934.3 316.7L934.6 316.8L934.8 316.9L935.1 316.9L935.3 317L935.5 317.1L935.8 317.1L936 317.2L936.3 317.3L936.5 317.3L936.8 317.4M975.5 341.9L975.6 342.1L975.8 342.3L976 342.5L976.2 342.7L976.3 342.8L976.5 343L976.7 343.2L976.9 343.4L977 343.5L977.2 343.7L977.4 343.9L977.6 344.1L977.8 344.2L977.9 344.4L978.1 344.6L978.3 344.8L978.5 344.9L978.7 345.1" fill="none" stroke="#ff00ff" stroke-width="5.2"/>
<path d="M491.5 140.5L492 140.7L492.4 140.9L492.9 141L493.4 141.2L493.8 141.4L494.3 141.6L494.8 141.8L495.2 142L495.7 142.2L496.1 142.4L496.6 142.6L497 142.9L497.5 143.1L497.9 143.3L498.4 143.5L498.8 143.8L499.3 144L499.7 144.2L500.1 144.5L500.6 144.7L501 145L501.4 145.2L501.9 145.4L502.3 145.7L502.7 146L503.2 146.2L503.6 146.5L504 146.7L504.5 147L504.9 147.2L505.3 147.5L505.7 147.8L506.2 148.1L506.6 148.3L507 148.6L507.4 148.9L507.8 149.1L508.2 149.4L508.7 149.7L509.1 150L509.5 150.3L509.9 150.5L510.3 150.8L510.7 151.1L511.1 151.4L511.6 151.7L512 152L512.4 152.3L512.8 152.6L513.2 152.9L513.6 153.2L514 153.5L514.3 153.8L514.7 154.1L515.1 154.4L515.5 154.8L515.9 155.1L516.2 155.4L516.6 155.8L517 156.1L517.4 156.4L517.7 156.8L518.1 157.1L518.4 157.5L518.8 157.8L519.2 158.2L519.5 158.5L519.9 158.9L520.2 159.2L520.6 159.6L520.9 159.9L521.3 160.3L521.6 160.6L522 161L522.3 161.4L522.7 161.7L523 162.1L523.4 162.4L523.7 162.8L524.1 163.1L524.4 163.5L524.8 163.9L525.1 164.2L525.5 164.6L525.8 164.9L526.2 165.3L526.5 165.7L526.9 166L527.2 166.4L527.6 166.7L527.9 167.1L528.3 167.4L528.6 167.8L529 168.1L529.4 168.5L529.7 168.8L530.1 169.2L530.4 169.5L530.8 169.9L531.2 170.2L531.5 170.6L531.9 170.9L532.3 171.2L532.6 171.6L533 171.9L533.4 172.3L533.7 172.6L534.1 173L534.5 173.3L534.8 173.6L535.2 174L535.6 174.3L535.9 174.7L536.3 175L536.6 175.4L537 175.7L537.4 176.1L537.7 176.4L538.1 176.8L538.4 177.1L538.8 177.5L539.2 177.8L539.5 178.2L539.9 178.5L540.2 178.8L540.6 179.2L541 179.5L541.3 179.9L541.7 180.2L542.1 180.6L542.4 180.9L542.8 181.2L543.2 181.6L543.5 181.9L543.9 182.2L544.3 182.6L544.7 182.9L545.1 183.2L545.4 183.5L545.8 183.8L546.2 184.2L546.6 184.5L547 184.8L547.4 185.1L547.8 185.4L548.2 185.7L548.6 186L549 186.3L549.4 186.5L549.9 186.8L550.3 187.1L550.7 187.3L551.2 187.6L551.6 187.8L552 188.1L552.5 188.3L552.9 188.6L553.3 188.8L553.8 189L554.2 189.3L554.7 189.5L555.1 189.7L555.6 189.9L556 190.2L556.5 190.4L556.9 190.6L557.4 190.8L557.8 191L558.3 191.2L558.7 191.4L559.2 191.6L559.7 191.8L560.1 192L560.6 192.2L561 192.4L561.5 192.6L562 192.8L562.4 193L562.9 193.2L563.4 193.4L563.8 193.5L564.3 193.7L564.8 193.9L565.2 194.1L565.7 194.2L566.2 194.4L566.6 194.6L567.1 194.8L567.6 194.9L568 195.1L568.5 195.3L569 195.4L569.5 195.6L569.9 195.8L570.4 195.9L570.9 196.1L571.4 196.3L571.8 196.4L572.3 196.6L572.8 196.8L573.2 196.9L573.7 197.1L574.2 197.3L574.7 197.4L575.1 197.6L575.6 197.8L576.1 197.9L576.6 198.1L577 198.2L577.5 198.4L578 198.6L578.5 198.7L578.9 198.9L579.4 199L579.9 199.2L580.4 199.3L580.8 199.5L581.3 199.6L581.8 199.8L582.3 199.9L582.7 200.1L583.2 200.2L583.7 200.3L584.2 200.5L584.7 200.6L585.2 200.7L585.6 200.9L586.1 201L586.6 201.1L587.1 201.2L587.6 201.3L588.1 201.4L588.6 201.5L589.1 201.6L589.6 201.7L590 201.8L590.5 201.9L591 202L591.5 202.1L592 202.2L592.5 202.2L593 202.3L593.5 202.4L594 202.5L594.5 202.6L595 202.6L595.5 202.7L596 202.8L596.5 202.9L597 202.9L597.5 203L598 203.1L598.5 203.1L598.9 203.2L599.4 203.3L599.9 203.3L600.4 203.4L600.9 203.5L601.4 203.5L601.9 203.6L602.4 203.6L602.9 203.7L603.4 203.7L603.9 203.8L604.4 203.8L604.9 203.9L605.4 203.9L605.9 204L606.4 204L606.9 204.1L607.4 204.1L607.9 204.1L608.4 204.2L608.9 204.2L609.4 204.2L609.9 204.3L610.4 204.3L610.9 204.3L611.4 204.3L611.9 204.4L612.4 204.4L612.9 204.4L613.4 204.4L613.9 204.5L614.4 204.5L614.9 204.5L615.4 204.5L615.9 204.6L616.4 204.6L616.9 204.6L617.4 204.6L617.9 204.7L618.4 204.7L618.9 204.7L619.4 204.7L619.9 204.7L620.4 204.7L620.9 204.7L621.4 204.8L621.9 204.8L622.4 204.8L622.9 204.8L623.4 204.8L623.9 204.8L624.4 204.8L624.9 204.8L625.4 204.8L625.9 204.8L626.4 204.8L626.9 204.8L627.4 204.8L627.9 204.8L628.4 204.7L628.9 204.7L629.4 204.7L629.9 204.7L630.4 204.6L630.9 204.6L631.4 204.6L631.9 204.5L632.4 204.5L632.9 204.5L633.4 204.4L633.9 204.4L634.4 204.3L634.9 204.3L635.4 204.3L635.9 204.2L636.4 204.2L636.9 204.1L637.4 204L637.9 203.9L638.4 203.7L638.8 203.6L639.3 203.4L639.8 203.3L640.2 203.1L640.7 202.9L641.2 202.7L641.6 202.5L642.1 202.3L642.5 202L643 201.8L643.4 201.6L643.9 201.3L644.3 201.1L644.7 200.9L645.2 200.6L645.6 200.4L646.1 200.2L646.5 199.9L646.9 199.7L647.4 199.5L647.8 199.2L648.3 199L648.7 198.8L649.2 198.5L649.6 198.3L650 198L650.5 197.8L650.9 197.5L651.3 197.3L651.8 197L652.2 196.8L652.6 196.5L653 196.2L653.4 195.9L653.9 195.7L654.3 195.4L654.7 195.1L655.1 194.8L655.5 194.6L655.9 194.3L656.4 194L656.8 193.7L657.2 193.4L657.6 193.1L658 192.9L658.4 192.6L658.8 192.3L659.2 192L659.7 191.7L660.1 191.5L660.5 191.2L660.9 190.9L661.3 190.6L661.7 190.3L662.1 190L662.5 189.7L662.9 189.4L663.3 189.1L663.7 188.8L664.1 188.5L664.5 188.2L664.9 187.9L665.3 187.6L665.8 187.3L666.2 187.1L666.6 186.8L667 186.5L667.4 186.2L667.8 185.9L668.2 185.6L668.6 185.3L669 185L669.4 184.7L669.8 184.4L670.2 184.1L670.6 183.9L671.1 183.6L671.5 183.3L671.9 183L672.3 182.8L672.7 182.5L673.2 182.2L673.6 182L674 181.7L674.4 181.4L674.9 181.2L675.3 180.9L675.7 180.6L676.1 180.4L676.6 180.1L677 179.8L677.4 179.6L677.8 179.3L678.2 179L678.7 178.8L679.1 178.5L679.5 178.2L679.9 177.9L680.3 177.7L680.8 177.4L681.2 177.1L681.6 176.8L682 176.6L682.4 176.3L682.8 176L683.2 175.7L683.7 175.4L684.1 175.1L684.5 174.8L684.9 174.5L685.3 174.3L685.7 174L686.1 173.7L686.5 173.4L686.9 173.1L687.3 172.8L687.7 172.5L688.1 172.2L688.5 171.9L688.9 171.6L689.3 171.3L689.7 171L690.2 170.7L690.6 170.4L691 170.1L691.4 169.9L691.8 169.6L692.2 169.3L692.6 169L693 168.7L693.4 168.4L693.8 168.1L694.2 167.8L694.6 167.5L695 167.2L695.4 166.9L695.8 166.6L696.2 166.3L696.6 166L697 165.7L697.4 165.4L697.9 165.1L698.3 164.9L698.7 164.6L699.1 164.3L699.5 164L699.9 163.7L700.3 163.4L700.7 163.1L701.1 162.8L701.5 162.5L701.9 162.3L702.3 162L702.8 161.7L703.2 161.4L703.6 161.1L704 160.9L704.4 160.6L704.9 160.3L705.3 160L705.7 159.8L706.1 159.5L706.5 159.2L707 159L707.4 158.7L707.8 158.4L708.2 158.2L708.7 157.9L709.1 157.6L709.5 157.4L709.9 157.1L710.4 156.9L710.8 156.6L711.2 156.3L711.6 156.1L712.1 155.8L712.5 155.5L712.9 155.3L713.3 155L713.8 154.7L714.2 154.5L714.6 154.2L715 153.9L715.4 153.6L715.9 153.4L716.3 153.1L716.7 152.8L717.1 152.5L717.5 152.2L717.9 152L718.3 151.7L718.8 151.4L719.2 151.1L719.6 150.8L720 150.6L720.4 150.3L720.9 150L721.3 149.8L721.7 149.5L722.1 149.3L722.6 149L723 148.8L723.5 148.6L723.9 148.3L724.4 148.1L724.8 147.9L725.3 147.7L725.7 147.5L726.2 147.3L726.7 147.1L727.1 147L727.6 146.8L728.1 146.6L728.5 146.4L729 146.3L729.5 146.1L730 146L730.4 145.8L730.9 145.6L731.4 145.5L731.9 145.3L732.3 145.2L732.8 145L733.3 144.9L733.8 144.7L734.2 144.6L734.7 144.4L735.2 144.2L735.7 144.1L736.1 143.9L736.6 143.8L737.1 143.6L737.6 143.5L738.1 143.3L738.5 143.2L739 143L739.5 142.9L740 142.7L740.5 142.6L740.9 142.5L741.4 142.3L741.9 142.2L742.4 142L742.8 141.9L743.3 141.7L743.8 141.6L744.3 141.4L744.8 141.3L745.2 141.1L745.7 140.9L746.2 140.8L746.6 140.6L747.1 140.4L747.6 140.2L748 140L748.5 139.8L749 139.6L749.4 139.4L749.9 139.2L750.3 139L750.8 138.8L751.2 138.6L751.7 138.4L752.1 138.2L752.6 138L753.1 137.8L753.5 137.6L754 137.4L754.4 137.2L754.9 137L755.4 136.8L755.8 136.6L756.3 136.4L756.8 136.3L757.2 136.1L757.7 136L758.2 135.8L758.7 135.7L759.2 135.6L759.7 135.5L760.1 135.4L760.6 135.3L761.1 135.2L761.6 135.1L762.1 135L762.6 135L763.1 134.9L763.6 134.8L764.1 134.7L764.6 134.6L765.1 134.6L765.6 134.5L766.1 134.4L766.6 134.3L767.1 134.3L767.6 134.2L768.1 134.1L768.6 134.1L769.1 134L769.5 134L770 133.9L770.5 133.8L771 133.8L771.5 133.7L772 133.7L772.5 133.6L773 133.6L773.5 133.5L774 133.5L774.5 133.5L775 133.4L775.5 133.4L776 133.4L776.5 133.4L777 133.3L777.5 133.3L778 133.3L778.5 133.3L779 133.3L779.5 133.3L780 133.3L780.5 133.3L781 133.3L781.5 133.3L782 133.3L782.5 133.4L783 133.4L783.5 133.4L784 133.4L784.5 133.5L785 133.5L785.5 133.5L786 133.5L786.5 133.6L787 133.6L787.5 133.7L788 133.7L788.5 133.7L789 133.8L789.5 133.8L790 133.9L790.5 134L791 134L791.5 134.1L792 134.3L792.5 134.4L793 134.5L793.4 134.6L793.9 134.8L794.4 134.9L794.9 135.1L795.3 135.3L795.8 135.4L796.3 135.6L796.8 135.7L797.2 135.9L797.7 136.1L798.2 136.2L798.7 136.4L799.1 136.5L799.6 136.7L800.1 136.8L800.6 137L801.1 137.1L801.5 137.3L802 137.4L802.5 137.6L802.9 137.8L803.4 137.9L803.9 138.1L804.4 138.3L804.8 138.4L805.3 138.6L805.8 138.8L806.2 139L806.7 139.1L807.2 139.3L807.7 139.5L808.1 139.6L808.6 139.8L809.1 140L809.5 140.2L810 140.3L810.5 140.5L810.9 140.7L811.4 140.9L811.9 141.1L812.3 141.2L812.8 141.4L813.3 141.6L813.7 141.8L814.2 142L814.7 142.1L815.1 142.3L815.6 142.5L816.1 142.7L816.5 142.9L817 143.1L817.4 143.3L817.9 143.5L818.4 143.7L818.8 143.9L819.3 144.1L819.7 144.3L820.2 144.5L820.6 144.7L821.1 144.9L821.5 145.2L822 145.4L822.4 145.6L822.9 145.8L823.3 146.1L823.8 146.3L824.2 146.5L824.7 146.7L825.1 147L825.6 147.2L826 147.4L826.4 147.7L826.9 147.9L827.3 148.1L827.8 148.4L828.2 148.6L828.7 148.8L829.1 149.1L829.5 149.3L830 149.6L830.4 149.8L830.8 150.1L831.3 150.3L831.7 150.6L832.1 150.8L832.6 151.1L833 151.3L833.4 151.6L833.9 151.8L834.3 152.1L834.7 152.3L835.2 152.6L835.6 152.9L836 153.1L836.5 153.4L836.9 153.6L837.3 153.9L837.8 154.1L838.2 154.4L838.6 154.6L839.1 154.8L839.5 155.1L839.9 155.3L840.4 155.6L840.8 155.8L841.3 156L841.7 156.3L842.1 156.5L842.6 156.8L843 157L843.5 157.2L843.9 157.5L844.3 157.7L844.8 157.9L845.2 158.2L845.7 158.4L846.1 158.6L846.6 158.9L847 159.1L847.4 159.4L847.9 159.6L848.3 159.8L848.8 160.1L849.2 160.3L849.6 160.5L850.1 160.8L850.5 161L851 161.2L851.4 161.5L851.9 161.7L852.3 161.9L852.8 162.1L853.2 162.4L853.6 162.6L854.1 162.8L854.5 163.1L855 163.3L855.4 163.5L855.9 163.7L856.3 164L856.8 164.2L857.2 164.4L857.7 164.6L858.1 164.8L858.6 165L859 165.2L859.5 165.4L860 165.6L860.4 165.9L860.9 166.1L861.3 166.3L861.7 166.5L862.2 166.8L862.6 167L863.1 167.2L863.5 167.5L863.9 167.8L864.4 168L864.8 168.3L865.2 168.6L865.6 168.9L866 169.2L866.4 169.5L866.8 169.8L867.1 170.1L867.5 170.5L867.9 170.8L868.3 171.1L868.7 171.4L869.1 171.7L869.4 172.1L869.8 172.4L870.2 172.7L870.6 173L871 173.3L871.4 173.6L871.8 173.9L872.2 174.2L872.6 174.5L873 174.8L873.5 175.1L873.9 175.4L874.3 175.6L874.7 175.9L875.1 176.2L875.5 176.5L875.9 176.8L876.3 177.1L876.7 177.4L877.1 177.6L877.6 177.9L878 178.2L878.4 178.5L878.8 178.8L879.2 179.1L879.6 179.4L880 179.7L880.4 180L880.8 180.3L881.2 180.6L881.6 180.9L882 181.2L882.3 181.6L882.7 181.9L883.1 182.2L883.5 182.5L883.9 182.8L884.3 183.1L884.7 183.4L885.1 183.7L885.5 184L885.9 184.4L886.3 184.7L886.6 185L887 185.3L887.4 185.6L887.8 186L888.2 186.3L888.6 186.6L888.9 186.9L889.3 187.3L889.7 187.6L890.1 187.9L890.4 188.3L890.8 188.6L891.1 189L891.5 189.3L891.9 189.7L892.2 190L892.6 190.4L892.9 190.7L893.3 191.1L893.7 191.4L894 191.8L894.4 192.1L894.7 192.5L895.1 192.8L895.5 193.2L895.8 193.5L896.2 193.8L896.5 194.2L896.9 194.5L897.3 194.9L897.7 195.2L898 195.5L898.4 195.8L898.8 196.2L899.2 196.5L899.6 196.8L899.9 197.1L900.3 197.5L900.7 197.8L901.1 198.1L901.5 198.4L901.9 198.7L902.3 199.1L902.6 199.4L903 199.7L903.4 200L903.8 200.4L904.1 200.7L904.5 201L904.9 201.4L905.2 201.7L905.6 202.1L906 202.4L906.3 202.8L906.7 203.1L907 203.5L907.4 203.8L907.7 204.2L908.1 204.6L908.4 204.9L908.8 205.3L909.1 205.6L909.5 206L909.8 206.4L910.1 206.7L910.5 207.1L910.8 207.5L911.2 207.8L911.5 208.2L911.8 208.6L912.2 209L912.5 209.3L912.8 209.7L913.2 210.1L913.5 210.4L913.8 210.8L914.2 211.2L914.5 211.6L914.8 211.9L915.2 212.3L915.5 212.7L915.8 213.1L916.1 213.5L916.5 213.8L916.8 214.2L917.1 214.6L917.4 215L917.8 215.4L918.1 215.7L918.4 216.1L918.7 216.5L919.1 216.9L919.4 217.3L919.7 217.7L920 218L920.3 218.4L920.6 218.8L921 219.2L921.3 219.6L921.6 220L921.9 220.4L922.2 220.8L922.5 221.2L922.8 221.6L923.2 221.9L923.5 222.3L923.8 222.7L924.1 223.1L924.4 223.5L924.7 223.9L925 224.3L925.3 224.7L925.6 225.1L925.9 225.5L926.2 225.9L926.5 226.3L926.8 226.7L927.1 227.1L927.4 227.5L927.7 227.9L928 228.3L928.3 228.7L928.6 229.1L928.9 229.5L929.2 229.9L929.5 230.3L929.8 230.7L930.1 231.1L930.4 231.5L930.7 231.9L931 232.3L931.3 232.7L931.6 233.1L931.9 233.5L932.2 233.9L932.5 234.3L932.8 234.7L933.1 235.1L933.4 235.6L933.7 236L934 236.4L934.3 236.8L934.5 237.2L934.8 237.6L935.1 238L935.4 238.4L935.7 238.8L936 239.2L936.3 239.6L936.6 240L936.9 240.4L937.2 240.8L937.5 241.2L937.7 241.7L938 242.1L938.3 242.5L938.6 242.9L938.9 243.3L939.2 243.7L939.5 244.1L939.8 244.5L940.1 244.9L940.4 245.3L940.6 245.7L940.9 246.1L941.2 246.6L941.5 247L941.8 247.4L942.1 247.8L942.4 248.2L942.7 248.6L942.9 249L943.2 249.4L943.5 249.8L943.8 250.2L944.1 250.6L944.4 251.1L944.7 251.5L945 251.9L945.3 252.3L945.5 252.7L945.8 253.1L946.1 253.5L946.4 253.9L946.7 254.3L947 254.8L947.2 255.2L947.5 255.6L947.8 256L948.1 256.4L948.4 256.8L948.6 257.2L948.9 257.7L949.2 258.1L949.5 258.5L949.8 258.9L950 259.3L950.3 259.7L950.6 260.2L950.9 260.6L951.2 261L951.4 261.4L951.7 261.8L952 262.2L952.3 262.6L952.5 263.1L952.8 263.5L953.1 263.9L953.4 264.3L953.7 264.7L953.9 265.1L954.2 265.6L954.5 266L954.8 266.4L955.1 266.8L955.3 267.2L955.6 267.6L955.9 268L956.2 268.5L956.5 268.9L956.7 269.3L957 269.7L957.3 270.1L957.6 270.5L957.9 270.9L958.2 271.4L958.4 271.8L958.7 272.2L959 272.6L959.3 273L959.6 273.4L959.9 273.8L960.2 274.2L960.5 274.6L960.7 275L961 275.4L961.3 275.8L961.6 276.3L961.9 276.7L962.2 277.1L962.5 277.5L962.8 277.8L963.1 278.2L963.5 278.6L963.8 279L964.1 279.4L964.4 279.8L964.7 280.2L965 280.6L965.3 281L965.6 281.4L965.9 281.8L966.2 282.2L966.5 282.6L966.8 283L967.1 283.4L967.4 283.8L967.7 284.2L968 284.6L968.3 285L968.6 285.4L968.9 285.8L969.2 286.2L969.5 286.6L969.8 287L970.1 287.4L970.4 287.8L970.7 288.2L971 288.6L971.3 289.1L971.5 289.5L971.8 289.9L972.1 290.3L972.4 290.7L972.6 291.1L972.9 291.6L973.2 292L973.4 292.4L973.7 292.9L973.9 293.3L974.2 293.7L974.4 294.1L974.7 294.6L974.9 295L975.2 295.5L975.4 295.9L975.7 296.3L975.9 296.8L976.1 297.2L976.4 297.6L976.6 298.1L976.8 298.5L977.1 299L977.3 299.4L977.5 299.9L977.8 300.3L978 300.8L978.2 301.2L978.4 301.7L978.7 302.1L978.9 302.6L979.1 303L979.3 303.5L979.5 303.9L979.8 304.4L980 304.8L980.2 305.3L980.4 305.7L980.6 306.2L980.8 306.6L981 307.1L981.2 307.5L981.5 308L981.7 308.4L981.9 308.9L982.1 309.3L982.3 309.8L982.5 310.3L982.7 310.7L982.9 311.2L983.1 311.6L983.3 312.1L983.5 312.5L983.7 313L983.9 313.5L984.1 313.9L984.3 314.4L984.5 314.8L984.7 315.3" fill="none" stroke="#00008c" stroke-width="3.5" stroke-linejoin="round"/>
<path d="M192.8 526.5L206.2 539.9M192.8 539.9L206.2 526.5M212.1 468.5L225.5 481.9M212.1 481.9L225.5 468.5M233.2 446.9L246.6 460.3M233.2 460.3L246.6 446.9M249.8 385.8L263.2 399.2M249.8 399.2L263.2 385.8M268.4 314.5L281.8 327.9M268.4 327.9L281.8 314.5M289.3 257.5L302.7 270.9M289.3 270.9L302.7 257.5M310 225.3L323.4 238.7M310 238.7L323.4 225.3M329.1 200.3L342.5 213.7M329.1 213.7L342.5 200.3M349 179.1L362.4 192.5M349 192.5L362.4 179.1M367.3 159L380.7 172.4M367.3 172.4L380.7 159M389.2 141.7L402.6 155.1M389.2 155.1L402.6 141.7M407.1 129.5L420.5 142.9M407.1 142.9L420.5 129.5M426.6 122.8L440 136.2M426.6 136.2L440 122.8M447.2 119.4L460.6 132.8M447.2 132.8L460.6 119.4M466.3 122.9L479.7 136.3M466.3 136.3L479.7 122.9M484.5 131.4L497.9 144.8M484.5 144.8L497.9 131.4M506.2 145.2L519.6 158.6M506.2 158.6L519.6 145.2M525.7 164.5L539.1 177.9M525.7 177.9L539.1 164.5M544.1 180.9L557.5 194.3M544.1 194.3L557.5 180.9M565.4 188.6L578.8 202M565.4 202L578.8 188.6M583.1 194.5L596.5 207.9M583.1 207.9L596.5 194.5M602.4 198.1L615.8 211.5M602.4 211.5L615.8 198.1M622.3 198.3L635.7 211.7M622.3 211.7L635.7 198.3M639.3 193.3L652.7 206.7M639.3 206.7L652.7 193.3M661.7 179.6L675.1 193M661.7 193L675.1 179.6M681.7 163.7L695.1 177.1M681.7 177.1L695.1 163.7M700 149.3L713.4 162.7M700 162.7L713.4 149.3M719.6 136.7L733 150.1M719.6 150.1L733 136.7M741.3 130.5L754.7 143.9M741.3 143.9L754.7 130.5M758.1 125.6L771.5 139M758.1 139L771.5 125.6M775.8 125.6L789.2 139M775.8 139L789.2 125.6M794.1 128.5L807.5 141.9M794.1 141.9L807.5 128.5M818.7 137.8L832.1 151.2M818.7 151.2L832.1 137.8M837.5 145.8L850.9 159.2M837.5 159.2L850.9 145.8M857.8 159.8L871.2 173.2M857.8 173.2L871.2 159.8M878.3 174.8L891.7 188.2M878.3 188.2L891.7 174.8M895.8 193L909.2 206.4M895.8 206.4L909.2 193M915.8 214.9L929.2 228.3M915.8 228.3L929.2 214.9" fill="none" stroke="#00008c" stroke-width="1.7"/>
<path d="M207.4 548.4L207.5 548.2L207.6 548L207.7 547.7L207.8 547.5L207.9 547.3L208 547L208.1 546.8L208.2 546.6L208.3 546.4L208.4 546.1L208.5 545.9L208.6 545.7L208.7 545.4L208.8 545.2L208.9 545L209 544.7L209.1 544.5L209.1 544.3L209.2 544L209.3 543.8L209.4 543.6L209.5 543.3L209.6 543.1L209.6 542.9L209.7 542.6L209.8 542.4L209.9 542.1L210 541.9L210.1 541.7L210.1 541.4M213.1 531.9L213.2 531.6L213.3 531.4L213.3 531.2L213.4 530.9L213.5 530.7L213.5 530.4L213.6 530.2L213.7 530L213.8 529.7L213.8 529.5L213.9 529.3L214 529L214.1 528.8L214.1 528.5L214.2 528.3L214.3 528.1L214.3 527.8L214.4 527.6L214.5 527.3L214.6 527.1L214.6 526.9L214.7 526.6L214.8 526.4L214.9 526.1L214.9 525.9L215 525.7L215.1 525.4L215.1 525.2L215.2 524.9L215.3 524.7M218.3 514.4L218.4 514.1L218.5 513.9L218.5 513.7L218.6 513.4L218.7 513.2L218.8 512.9L218.8 512.7L218.9 512.5L219 512.2L219.1 512L219.1 511.8L219.2 511.5L219.3 511.3L219.4 511L219.4 510.8L219.5 510.6L219.6 510.3L219.7 510.1L219.7 509.9L219.8 509.6L219.9 509.4L220 509.1L220.1 508.9L220.1 508.7L220.2 508.4L220.3 508.2L220.4 508L220.5 507.7L220.5 507.5L220.6 507.2M224.3 497.1L224.4 496.9L224.4 496.7L224.5 496.4L224.6 496.2L224.7 495.9L224.8 495.7L224.8 495.5L224.9 495.2L225 495L225.1 494.8L225.2 494.5L225.2 494.3L225.3 494.1L225.4 493.8L225.5 493.6L225.6 493.3L225.6 493.1L225.7 492.9L225.8 492.6L225.9 492.4L225.9 492.1L226 491.9L226.1 491.7L226.2 491.4L226.2 491.2L226.3 491L226.4 490.7L226.4 490.5L226.5 490.2L226.6 490M229.6 479.7L229.7 479.4L229.8 479.2L229.8 479L229.9 478.7L230 478.5L230.1 478.2L230.1 478L230.2 477.8L230.3 477.5L230.3 477.3L230.4 477L230.5 476.8L230.6 476.6L230.6 476.3L230.7 476.1L230.8 475.8L230.9 475.6L230.9 475.4L231 475.1L231.1 474.9L231.1 474.6L231.2 474.4L231.3 474.2L231.4 473.9L231.4 473.7L231.5 473.5L231.6 473.2L231.7 473L231.7 472.7L231.8 472.5M235.1 462L235.2 461.8L235.3 461.5L235.4 461.3L235.5 461.1L235.5 460.8L235.6 460.6L235.7 460.3L235.8 460.1L235.8 459.9L235.9 459.6L236 459.4L236.1 459.2L236.2 458.9L236.2 458.7L236.3 458.4L236.4 458.2L236.5 458L236.6 457.7L236.6 457.5L236.7 457.3L236.8 457L236.9 456.8L236.9 456.5L237 456.3L237.1 456.1L237.2 455.8L237.3 455.6L237.3 455.4L237.4 455.1L237.5 454.9M241 444.5L241.1 444.2L241.2 444L241.3 443.8L241.3 443.5L241.4 443.3L241.5 443L241.6 442.8L241.7 442.6L241.8 442.3L241.9 442.1L242 441.9L242.1 441.6L242.1 441.4L242.2 441.2L242.3 440.9L242.4 440.7L242.5 440.5L242.6 440.2L242.7 440L242.8 439.8L242.9 439.5L243 439.3L243.1 439.1L243.2 438.9L243.3 438.6L243.4 438.4L243.4 438.2L243.5 437.9L243.6 437.7L243.7 437.5M248.2 427.7L248.3 427.4L248.4 427.2L248.5 427L248.6 426.8L248.7 426.5L248.8 426.3L248.9 426.1L249 425.8L249.1 425.6L249.2 425.4L249.3 425.2L249.4 424.9L249.5 424.7L249.6 424.5L249.7 424.3L249.8 424L249.9 423.8L250 423.6L250.1 423.3L250.2 423.1L250.3 422.9L250.4 422.7L250.5 422.4L250.6 422.2L250.8 422L250.9 421.7L251 421.5L251.1 421.3L251.2 421.1L251.3 420.8M256.1 410.4L256.2 410.2L256.3 409.9L256.4 409.7L256.5 409.5L256.6 409.2L256.7 409L256.8 408.8L256.9 408.6L257 408.3L257.1 408.1L257.2 407.9L257.3 407.7L257.4 407.4L257.6 407.2L257.7 407L257.8 406.8L257.9 406.5L258 406.3L258.1 406.1L258.2 405.9L258.3 405.6L258.4 405.4L258.5 405.2L258.6 404.9L258.7 404.7L258.8 404.5L258.9 404.3L259 404L259.1 403.8L259.2 403.6M264.3 393L264.4 392.7L264.5 392.5L264.6 392.3L264.7 392.1L264.8 391.8L265 391.6L265.1 391.4L265.2 391.2L265.3 391L265.4 390.7L265.5 390.5L265.6 390.3L265.8 390.1L265.9 389.8L266 389.6L266.1 389.4L266.2 389.2L266.3 389L266.5 388.7L266.6 388.5L266.7 388.3L266.8 388.1L266.9 387.9L267.1 387.6L267.2 387.4L267.3 387.2L267.4 387L267.5 386.8L267.7 386.5L267.8 386.3M273.6 376.4L273.8 376.2L273.9 376L274 375.8L274.2 375.6L274.3 375.3L274.4 375.1L274.5 374.9L274.7 374.7L274.8 374.5L274.9 374.3L275 374L275.1 373.8L275.3 373.6L275.4 373.4L275.5 373.2L275.6 373L275.8 372.7L275.9 372.5L276 372.3L276.1 372.1L276.2 371.9L276.4 371.6L276.5 371.4L276.6 371.2L276.7 371L276.8 370.8L276.9 370.5L277.1 370.3L277.2 370.1L277.3 369.9M283.5 358.1L283.6 357.9L283.7 357.7L283.8 357.5L284 357.3L284.1 357L284.2 356.8L284.3 356.6L284.4 356.4L284.6 356.2L284.7 356L284.8 355.7L284.9 355.5L285.1 355.3L285.2 355.1L285.3 354.9L285.4 354.7L285.6 354.4L285.7 354.2L285.8 354L285.9 353.8L286.1 353.6L286.2 353.4L286.3 353.2L286.5 352.9L286.6 352.7L286.7 352.5L286.9 352.3L287 352.1L287.1 351.9L287.2 351.7M294.5 340.3L294.7 340.1L294.8 339.9L295 339.7L295.1 339.5L295.2 339.3L295.4 339.1L295.5 338.8L295.7 338.6L295.8 338.4L295.9 338.2L296.1 338L296.2 337.8L296.4 337.6L296.5 337.4L296.6 337.2L296.8 337L296.9 336.8L297.1 336.6L297.2 336.4L297.3 336.2L297.5 335.9L297.6 335.7L297.8 335.5L297.9 335.3L298 335.1L298.2 334.9L298.3 334.7L298.5 334.5L298.6 334.3L298.7 334.1M306.5 323.1L306.7 322.9L306.8 322.7L307 322.5L307.1 322.3L307.3 322L307.4 321.8L307.6 321.6L307.7 321.4L307.9 321.2L308 321L308.2 320.8L308.3 320.6L308.5 320.4L308.6 320.2L308.8 320L308.9 319.8L309.1 319.6L309.2 319.4L309.4 319.2L309.5 319L309.7 318.8L309.8 318.6L310 318.4L310.1 318.2L310.3 318L310.4 317.8L310.6 317.6L310.7 317.4L310.9 317.2L311 317M319.4 306.4L319.5 306.2L319.7 306L319.8 305.8L320 305.6L320.2 305.4L320.3 305.3L320.5 305.1L320.6 304.9L320.8 304.7L320.9 304.5L321.1 304.3L321.3 304.1L321.4 303.9L321.6 303.7L321.7 303.5L321.9 303.3L322 303.1L322.2 302.9L322.3 302.7L322.5 302.5L322.7 302.3L322.8 302.1L323 301.9L323.1 301.7L323.3 301.5L323.4 301.3L323.6 301.1L323.7 301L323.9 300.8L324.1 300.6M333.6 288.7L333.8 288.5L334 288.3L334.1 288.1L334.3 287.9L334.5 287.7L334.6 287.6L334.8 287.4L335 287.2L335.1 287L335.3 286.8L335.5 286.6L335.6 286.4L335.8 286.3L336 286.1L336.1 285.9L336.3 285.7L336.5 285.5L336.6 285.3L336.8 285.1L337 285L337.1 284.8L337.3 284.6L337.5 284.4L337.7 284.2L337.8 284L338 283.9L338.2 283.7L338.3 283.5L338.5 283.3L338.7 283.1M350.3 271.7L350.5 271.6L350.6 271.4L350.8 271.2L351 271.1L351.2 270.9L351.4 270.7L351.6 270.5L351.7 270.4L351.9 270.2L352.1 270L352.3 269.9L352.5 269.7L352.7 269.5L352.8 269.4L353 269.2L353.2 269L353.4 268.8L353.6 268.7L353.8 268.5L353.9 268.3L354.1 268.2L354.3 268L354.5 267.8L354.7 267.6L354.8 267.5L355 267.3L355.2 267.1L355.4 267L355.6 266.8L355.8 266.6M367.9 255.8L368.1 255.7L368.3 255.5L368.5 255.4L368.7 255.2L368.9 255L369.1 254.9L369.3 254.7L369.5 254.6L369.7 254.4L369.9 254.3L370.1 254.1L370.2 253.9L370.4 253.8L370.6 253.6L370.8 253.5L371 253.3L371.2 253.2L371.4 253L371.6 252.9L371.8 252.7L372 252.5L372.2 252.4L372.4 252.2L372.6 252.1L372.8 251.9L373 251.8L373.2 251.6L373.4 251.5L373.6 251.3L373.8 251.2M384.9 243.1L385.1 243L385.3 242.8L385.6 242.7L385.8 242.5L386 242.4L386.2 242.3L386.4 242.1L386.6 242L386.8 241.8L387 241.7L387.2 241.5L387.4 241.4L387.6 241.3L387.8 241.1L388 241L388.2 240.8L388.4 240.7L388.7 240.6L388.9 240.4L389.1 240.3L389.3 240.1L389.5 240L389.7 239.9L389.9 239.7L390.1 239.6L390.3 239.4L390.5 239.3L390.7 239.2L390.9 239L391.1 238.9M401.9 232L402.1 231.9L402.3 231.8L402.5 231.6L402.7 231.5L403 231.4L403.2 231.2L403.4 231.1L403.6 231L403.8 230.8L404 230.7L404.2 230.6L404.4 230.4L404.6 230.3L404.9 230.2L405.1 230L405.3 229.9L405.5 229.8L405.7 229.6L405.9 229.5L406.1 229.4L406.3 229.2L406.5 229.1L406.8 228.9L407 228.8L407.2 228.7L407.4 228.5L407.6 228.4L407.8 228.3L408 228.1L408.2 228M419 221.2L419.2 221.1L419.5 221L419.7 220.8L419.9 220.7L420.1 220.6L420.3 220.4L420.5 220.3L420.7 220.2L421 220.1L421.2 219.9L421.4 219.8L421.6 219.7L421.8 219.5L422 219.4L422.2 219.3L422.5 219.1L422.7 219L422.9 218.9L423.1 218.8L423.3 218.6L423.5 218.5L423.7 218.4L424 218.2L424.2 218.1L424.4 218L424.6 217.9L424.8 217.7L425 217.6L425.2 217.5L425.5 217.3M436.5 210.9L436.7 210.8L436.9 210.7L437.1 210.6L437.4 210.4L437.6 210.3L437.8 210.2L438 210.1L438.2 210L438.5 209.9L438.7 209.7L438.9 209.6L439.1 209.5L439.3 209.4L439.6 209.3L439.8 209.2L440 209L440.2 208.9L440.5 208.8L440.7 208.7L440.9 208.6L441.1 208.5L441.3 208.4L441.6 208.2L441.8 208.1L442 208L442.2 207.9L442.5 207.8L442.7 207.7L442.9 207.6L443.1 207.5M454 202.4L454.2 202.3L454.5 202.2L454.7 202.1L454.9 202L455.1 201.9L455.4 201.7L455.6 201.6L455.8 201.5L456.1 201.4L456.3 201.3L456.5 201.2L456.7 201.1L457 201L457.2 200.9L457.4 200.8L457.6 200.7L457.9 200.6L458.1 200.5L458.3 200.4L458.5 200.3L458.8 200.2L459 200L459.2 199.9L459.4 199.8L459.7 199.7L459.9 199.6L460.1 199.5L460.3 199.4L460.6 199.3L460.8 199.2M471 194.4L471.2 194.3L471.4 194.2L471.7 194.1L471.9 193.9L472.1 193.8L472.3 193.7L472.6 193.6L472.8 193.5L473 193.4L473.3 193.3L473.5 193.2L473.7 193.1L473.9 193L474.2 192.9L474.4 192.8L474.6 192.7L474.9 192.6L475.1 192.5L475.3 192.5L475.5 192.4L475.8 192.3L476 192.2L476.2 192.1L476.5 192L476.7 191.9L476.9 191.8L477.2 191.7L477.4 191.6L477.6 191.5L477.9 191.4M488.1 187.3L488.3 187.3L488.6 187.2L488.8 187.1L489 187L489.3 186.9L489.5 186.8L489.7 186.7L490 186.7L490.2 186.6L490.4 186.5L490.7 186.4L490.9 186.3L491.2 186.3L491.4 186.2L491.6 186.1L491.9 186L492.1 185.9L492.3 185.8L492.6 185.8L492.8 185.7L493 185.6L493.3 185.5L493.5 185.4L493.8 185.4L494 185.3L494.2 185.2L494.5 185.1L494.7 185L494.9 185L495.2 184.9M505.9 181.5L506.2 181.5L506.4 181.4L506.6 181.4L506.9 181.3L507.1 181.2L507.4 181.2L507.6 181.1L507.9 181.1L508.1 181L508.4 181L508.6 180.9L508.8 180.9L509.1 180.8L509.3 180.8L509.6 180.7L509.8 180.7L510.1 180.6L510.3 180.6L510.6 180.5L510.8 180.5L511 180.4L511.3 180.4L511.5 180.3L511.8 180.3L512 180.2L512.3 180.2L512.5 180.1L512.8 180.1L513 180L513.3 180M523.9 178.4L524.1 178.3L524.4 178.3L524.6 178.3L524.9 178.3L525.1 178.3L525.4 178.2L525.6 178.2L525.9 178.2L526.1 178.2L526.4 178.2L526.6 178.2L526.9 178.1L527.1 178.1L527.4 178.1L527.6 178.1L527.9 178.1L528.1 178.1L528.4 178.1L528.6 178.1L528.9 178.1L529.1 178L529.4 178L529.6 178L529.9 178L530.1 178L530.4 178L530.6 178L530.9 178L531.1 178L531.4 178M540.1 177.7L540.4 177.7L540.6 177.7L540.9 177.7L541.1 177.7L541.4 177.7L541.6 177.7L541.9 177.7L542.1 177.7L542.4 177.7L542.6 177.7L542.9 177.7L543.1 177.7L543.4 177.7L543.6 177.7L543.9 177.7L544.1 177.7L544.4 177.7L544.6 177.7L544.9 177.7L545.1 177.7L545.4 177.7L545.6 177.7L545.9 177.7L546.1 177.7L546.4 177.8L546.6 177.8L546.9 177.8L547.1 177.8L547.4 177.8L547.6 177.8M557.1 178.7L557.3 178.7L557.6 178.8L557.8 178.8L558.1 178.8L558.3 178.8L558.6 178.9L558.8 178.9L559.1 178.9L559.3 178.9L559.6 179L559.8 179L560.1 179L560.3 179L560.6 179.1L560.8 179.1L561.1 179.1L561.3 179.1L561.6 179.2L561.8 179.2L562.1 179.2L562.3 179.2L562.6 179.3L562.8 179.3L563.1 179.3L563.3 179.4L563.6 179.4L563.8 179.4L564.1 179.4L564.3 179.5L564.6 179.5M574.2 180.7L574.5 180.8L574.7 180.8L575 180.8L575.2 180.8L575.5 180.9L575.7 180.9L576 180.9L576.2 180.9L576.5 181L576.7 181L577 181L577.2 181L577.5 181.1L577.7 181.1L578 181.1L578.2 181.1L578.5 181.1L578.7 181.2L579 181.2L579.2 181.2L579.5 181.2L579.7 181.2L580 181.3L580.2 181.3L580.5 181.3L580.7 181.3L581 181.3L581.2 181.3L581.5 181.4L581.7 181.4M591.9 182L592.2 182L592.4 182L592.7 182.1L592.9 182.1L593.2 182.1L593.4 182.1L593.7 182.1L593.9 182.1L594.2 182.1L594.4 182.1L594.7 182.1L594.9 182.1L595.2 182.1L595.4 182.1L595.7 182.1L595.9 182.1L596.2 182.1L596.4 182.1L596.7 182.1L596.9 182.1L597.2 182.1L597.4 182.1L597.7 182.1L597.9 182.1L598.2 182L598.4 182L598.7 182L598.9 182L599.2 182L599.4 182M609.6 180.7L609.9 180.7L610.1 180.6L610.3 180.6L610.6 180.6L610.8 180.5L611.1 180.5L611.3 180.4L611.6 180.4L611.8 180.4L612.1 180.3L612.3 180.3L612.6 180.2L612.8 180.2L613.1 180.1L613.3 180.1L613.6 180.1L613.8 180L614 180L614.3 179.9L614.5 179.9L614.8 179.8L615 179.8L615.3 179.7L615.5 179.6L615.8 179.6L616 179.5L616.2 179.5L616.5 179.4L616.7 179.3L617 179.3M627 175.6L627.3 175.5L627.5 175.4L627.7 175.3L628 175.2L628.2 175.1L628.4 175L628.7 174.9L628.9 174.8L629.1 174.7L629.3 174.6L629.6 174.5L629.8 174.4L630 174.3L630.3 174.2L630.5 174.1L630.7 174L630.9 173.9L631.2 173.7L631.4 173.6L631.6 173.5L631.8 173.4L632.1 173.3L632.3 173.2L632.5 173.1L632.7 173L633 172.8L633.2 172.7L633.4 172.6L633.6 172.5L633.8 172.4M644.2 165.9L644.4 165.8L644.7 165.6L644.9 165.5L645.1 165.4L645.3 165.2L645.5 165.1L645.7 165L646 164.9L646.2 164.7L646.4 164.6L646.6 164.5L646.8 164.4L647 164.2L647.3 164.1L647.5 164L647.7 163.9L647.9 163.8L648.1 163.7L648.4 163.5L648.6 163.4L648.8 163.3L649 163.2L649.2 163.1L649.5 162.9L649.7 162.8L649.9 162.7L650.1 162.6L650.3 162.5L650.6 162.3L650.8 162.2M660.6 157.3L660.8 157.2L661.1 157.1L661.3 157L661.5 156.9L661.8 156.8L662 156.7L662.2 156.6L662.5 156.5L662.7 156.4L662.9 156.4L663.2 156.3L663.4 156.2L663.6 156.1L663.9 156L664.1 155.9L664.3 155.9L664.6 155.8L664.8 155.7L665.1 155.6L665.3 155.5L665.5 155.5L665.8 155.4L666 155.3L666.2 155.2L666.5 155.2L666.7 155.1L667 155L667.2 154.9L667.4 154.9L667.7 154.8M678.3 152.1L678.6 152L678.8 152L679.1 151.9L679.3 151.8L679.6 151.8L679.8 151.7L680.1 151.7L680.3 151.6L680.5 151.6L680.8 151.5L681 151.5L681.3 151.4L681.5 151.4L681.8 151.3L682 151.3L682.3 151.2L682.5 151.2L682.7 151.2L683 151.1L683.2 151.1L683.5 151L683.7 151L684 150.9L684.2 150.9L684.5 150.8L684.7 150.8L685 150.7L685.2 150.7L685.4 150.6L685.7 150.6M695.8 148.9L696.1 148.9L696.3 148.9L696.6 148.8L696.8 148.8L697.1 148.8L697.3 148.7L697.5 148.7L697.8 148.7L698 148.7L698.3 148.6L698.5 148.6L698.8 148.6L699 148.5L699.3 148.5L699.5 148.5L699.8 148.5L700 148.4L700.3 148.4L700.5 148.4L700.8 148.4L701 148.4L701.3 148.3L701.5 148.3L701.8 148.3L702 148.3L702.3 148.2L702.5 148.2L702.8 148.2L703 148.2L703.3 148.1M713.2 147.4L713.5 147.4L713.7 147.4L714 147.4L714.2 147.3L714.5 147.3L714.7 147.3L715 147.3L715.2 147.3L715.5 147.3L715.7 147.3L716 147.3L716.2 147.3L716.5 147.3L716.7 147.3L717 147.3L717.2 147.3L717.5 147.3L717.7 147.3L718 147.3L718.2 147.3L718.5 147.3L718.7 147.3L719 147.3L719.2 147.3L719.5 147.3L719.7 147.3L720 147.3L720.2 147.3L720.5 147.3L720.8 147.3M730.3 147.3L730.5 147.3L730.8 147.3L731 147.3L731.3 147.3L731.5 147.3L731.8 147.3L732 147.3L732.3 147.3L732.5 147.3L732.8 147.3L733 147.3L733.3 147.3L733.5 147.3L733.8 147.3L734 147.3L734.3 147.3L734.5 147.3L734.8 147.3L735 147.3L735.3 147.3L735.5 147.3L735.8 147.3L736 147.3L736.3 147.3L736.5 147.3L736.8 147.3L737 147.3L737.3 147.3L737.5 147.4L737.8 147.4M747.2 147.9L747.5 147.9L747.7 147.9L748 147.9L748.2 147.9L748.5 147.9L748.7 148L749 148L749.2 148L749.5 148L749.7 148L750 148L750.2 148.1L750.5 148.1L750.7 148.1L751 148.1L751.2 148.1L751.5 148.1L751.7 148.1L752 148.2L752.2 148.2L752.5 148.2L752.7 148.2L753 148.2L753.2 148.3L753.5 148.3L753.7 148.3L754 148.3L754.2 148.3L754.5 148.4L754.7 148.4M765.2 149.4L765.4 149.5L765.7 149.5L765.9 149.5L766.2 149.5L766.4 149.6L766.7 149.6L766.9 149.6L767.2 149.7L767.4 149.7L767.7 149.7L767.9 149.8L768.2 149.8L768.4 149.8L768.7 149.9L768.9 149.9L769.2 149.9L769.4 150L769.7 150L769.9 150L770.1 150.1L770.4 150.1L770.6 150.1L770.9 150.2L771.1 150.2L771.4 150.2L771.6 150.3L771.9 150.3L772.1 150.3L772.4 150.4L772.6 150.4M782.2 152.2L782.5 152.2L782.7 152.3L782.9 152.3L783.2 152.4L783.4 152.5L783.7 152.5L783.9 152.6L784.2 152.6L784.4 152.7L784.7 152.7L784.9 152.8L785.1 152.8L785.4 152.9L785.6 152.9L785.9 153L786.1 153L786.4 153.1L786.6 153.1L786.9 153.2L787.1 153.2L787.3 153.3L787.6 153.4L787.8 153.4L788.1 153.5L788.3 153.5L788.6 153.6L788.8 153.6L789.1 153.7L789.3 153.8L789.5 153.8M799.4 156.5L799.7 156.5L799.9 156.6L800.2 156.7L800.4 156.7L800.6 156.8L800.9 156.9L801.1 157L801.4 157L801.6 157.1L801.8 157.2L802.1 157.2L802.3 157.3L802.6 157.4L802.8 157.4L803 157.5L803.3 157.6L803.5 157.7L803.8 157.7L804 157.8L804.2 157.9L804.5 157.9L804.7 158L805 158.1L805.2 158.1L805.4 158.2L805.7 158.3L805.9 158.4L806.2 158.4L806.4 158.5L806.6 158.6M817.4 162L817.6 162.1L817.8 162.1L818.1 162.2L818.3 162.3L818.5 162.4L818.8 162.5L819 162.6L819.3 162.6L819.5 162.7L819.7 162.8L820 162.9L820.2 163L820.4 163.1L820.7 163.2L820.9 163.3L821.1 163.3L821.4 163.4L821.6 163.5L821.8 163.6L822.1 163.7L822.3 163.8L822.5 163.9L822.8 164L823 164.1L823.2 164.2L823.5 164.3L823.7 164.4L823.9 164.5L824.2 164.5L824.4 164.6M835.2 169.7L835.5 169.9L835.7 170L835.9 170.1L836.1 170.2L836.3 170.3L836.6 170.5L836.8 170.6L837 170.7L837.2 170.8L837.4 171L837.6 171.1L837.9 171.2L838.1 171.3L838.3 171.5L838.5 171.6L838.7 171.7L838.9 171.9L839.1 172L839.4 172.1L839.6 172.3L839.8 172.4L840 172.5L840.2 172.7L840.4 172.8L840.6 173L840.8 173.1L841 173.2L841.2 173.4L841.4 173.5L841.6 173.7M869 198.2L869.2 198.4L869.3 198.6L869.5 198.7L869.7 198.9L869.8 199.1L870 199.3L870.2 199.5L870.4 199.6L870.5 199.8L870.7 200L870.9 200.2L871 200.4L871.2 200.6L871.4 200.8L871.5 200.9L871.7 201.1L871.9 201.3L872 201.5L872.2 201.7L872.4 201.9L872.5 202.1L872.7 202.3L872.8 202.5L873 202.7L873.1 202.9L873.3 203.1L873.4 203.3L873.6 203.5L873.7 203.7L873.9 203.9M882.4 216.5L882.6 216.7L882.8 216.8L883 217L883.1 217.2L883.3 217.4L883.5 217.5L883.7 217.7L883.9 217.8L884.1 218L884.3 218.1L884.6 218.2L884.8 218.3L885 218.4L885.2 218.5L885.5 218.6L885.7 218.7L886 218.7L886.2 218.8L886.4 218.8L886.7 218.9L886.9 218.9L887.2 219L887.4 219.1L887.7 219.1L887.9 219.2L888.2 219.2L888.4 219.2L888.7 219.3L888.9 219.3L889.1 219.4M897.6 220.4L897.8 220.4L898.1 220.4L898.3 220.5L898.6 220.5L898.8 220.5L899.1 220.6L899.3 220.6L899.6 220.6L899.8 220.7L900.1 220.7L900.3 220.7L900.6 220.8L900.8 220.8L901.1 220.8L901.3 220.9L901.6 220.9L901.8 221L902 221L902.3 221L902.5 221.1L902.8 221.1L903 221.2L903.3 221.2L903.5 221.2L903.8 221.3L904 221.3L904.3 221.4L904.5 221.4L904.8 221.4L905 221.5M914.4 223.1L914.6 223.2L914.9 223.3L915.1 223.3L915.3 223.4L915.6 223.4L915.8 223.5L916.1 223.6L916.3 223.6L916.5 223.7L916.8 223.7L917 223.8L917.3 223.9L917.5 224L917.8 224L918 224.1L918.2 224.2L918.5 224.3L918.7 224.3L918.9 224.4L919.2 224.5L919.4 224.6L919.6 224.7L919.9 224.8L920.1 224.9L920.3 225L920.5 225.1L920.8 225.2L921 225.4L921.2 225.5L921.4 225.6M932.1 233.9L932.2 234.1L932.4 234.2L932.6 234.4L932.8 234.5L933 234.7L933.2 234.9L933.4 235L933.6 235.2L933.8 235.4L933.9 235.5L934.1 235.7L934.3 235.8L934.5 236L934.7 236.2L934.9 236.3L935.1 236.5L935.3 236.6L935.5 236.8L935.7 237L935.9 237.1L936.1 237.3L936.2 237.5L936.4 237.6L936.6 237.8L936.8 238L937 238.1L937.2 238.3L937.4 238.5L937.5 238.6L937.7 238.8" fill="none" stroke="#000" stroke-width="5.2"/>
<path d="M588.5 204.5L588.9 204.8L589.3 205.1L589.7 205.5L590 205.8L590.4 206.2L590.7 206.5L591.1 206.9L591.4 207.3L591.7 207.6L592 208L592.4 208.4L592.7 208.8L592.9 209.2L593.2 209.6L593.5 210.1L593.8 210.5L594 210.9L594.3 211.3L594.6 211.8L594.8 212.2L595.1 212.6L595.3 213.1L595.5 213.5L595.8 213.9L596 214.4L596.3 214.8L596.5 215.2L596.8 215.7L597 216.1L597.3 216.6L597.5 217L597.7 217.4L598 217.9L598.2 218.3L598.4 218.8L598.7 219.2L598.9 219.7L599.1 220.1L599.3 220.6L599.6 221L599.8 221.4L600 221.9L600.2 222.3L600.5 222.8L600.7 223.2L600.9 223.7L601.2 224.1L601.4 224.6L601.6 225L601.9 225.5L602.1 225.9L602.3 226.3L602.5 226.8L602.8 227.2L603 227.7L603.2 228.1L603.5 228.6L603.7 229L603.9 229.4L604.2 229.9L604.4 230.3L604.6 230.8L604.9 231.2L605.1 231.7L605.4 232.1L605.6 232.5L605.8 233L606.1 233.4L606.3 233.8L606.6 234.3L606.9 234.7L607.1 235.1L607.4 235.6L607.6 236L607.9 236.4L608.1 236.9L608.4 237.3L608.6 237.7L608.8 238.2L609.1 238.6L609.3 239.1L609.5 239.5L609.7 240L609.9 240.4L610.1 240.9L610.3 241.4L610.5 241.8L610.7 242.3L610.9 242.8L611 243.2L611.2 243.7L611.4 244.2L611.6 244.6L611.7 245.1L611.9 245.6L612.1 246L612.3 246.5L612.4 247L612.6 247.4L612.8 247.9L613 248.4L613.2 248.8L613.3 249.3L613.5 249.8L613.7 250.3L613.8 250.7L614 251.2L614.2 251.7L614.3 252.1L614.5 252.6L614.7 253.1L614.9 253.5L615.1 254L615.3 254.5L615.5 254.9L615.7 255.4L616 255.8L616.2 256.2L616.5 256.6L616.8 257.1L617.1 257.5L617.4 257.9L617.7 258.3L618 258.7L618.3 259.1L618.6 259.4L618.9 259.8L619.3 260.2L619.6 260.6L620 260.9L620.3 261.3L620.7 261.6L621 262L621.4 262.3L621.8 262.7L622.1 263L622.5 263.3L622.9 263.7L623.2 264L623.6 264.3L624 264.7L624.4 265L624.7 265.3L625.1 265.7L625.5 266L625.9 266.3L626.3 266.6L626.7 266.9L627.1 267.2L627.5 267.5L627.9 267.8L628.3 268.1L628.7 268.4L629.1 268.7L629.5 268.9L630 269.2L630.4 269.4L630.8 269.7L631.3 269.9L631.7 270.1L632.2 270.3L632.7 270.5L633.1 270.7L633.6 270.9L634 271.1L634.5 271.3L635 271.5L635.4 271.7L635.9 271.8L636.4 272L636.9 272.1L637.3 272.3L637.8 272.4L638.3 272.6L638.8 272.7L639.3 272.8L639.8 272.9L640.2 273L640.7 273.2L641.2 273.3L641.7 273.4L642.2 273.5L642.7 273.6L643.2 273.7L643.7 273.8L644.2 273.9L644.7 273.9L645.2 274L645.7 274L646.2 274L646.7 274L647.2 274L647.7 274L648.2 273.9L648.7 273.9L649.2 273.9L649.7 273.8L650.2 273.8L650.7 273.7L651.1 273.6L651.6 273.6L652.1 273.5L652.6 273.4L653.1 273.4L653.6 273.3L654.1 273.2L654.6 273.1L655.1 273L655.6 272.9L656.1 272.8L656.6 272.7L657.1 272.6L657.5 272.4L658 272.3L658.5 272.1L659 272L659.4 271.8L659.9 271.6L660.4 271.5L660.8 271.3L661.3 271.1L661.8 270.9L662.2 270.7L662.7 270.5L663.1 270.2L663.6 270L664 269.7L664.4 269.5L664.8 269.2L665.2 268.9L665.6 268.6L666 268.3L666.4 268L666.8 267.7L667.2 267.4L667.6 267.1L668 266.8L668.4 266.5L668.8 266.2L669.2 265.9L669.6 265.6L670 265.3L670.5 265L670.9 264.7L671.3 264.5L671.7 264.2L672.1 263.9L672.5 263.6L673 263.4L673.4 263.1L673.8 262.8L674.2 262.5L674.6 262.3L675 262L675.4 261.7L675.9 261.4L676.3 261.1L676.7 260.8L677 260.5L677.4 260.1L677.8 259.8L678.2 259.5L678.6 259.2L678.9 258.8L679.3 258.5L679.6 258.1L680 257.7L680.3 257.3L680.6 257L680.9 256.6L681.3 256.2L681.6 255.8L681.9 255.4L682.2 255L682.5 254.6L682.8 254.2L683.1 253.9L683.4 253.5L683.7 253.1L684.1 252.7L684.4 252.3L684.7 251.9L685 251.5L685.3 251.1L685.6 250.7L686 250.3L686.3 250L686.6 249.6L686.9 249.2L687.2 248.8L687.5 248.4L687.9 248L688.2 247.6L688.5 247.2L688.8 246.9L689.1 246.5L689.4 246.1L689.7 245.7L690 245.3L690.3 244.9L690.6 244.5L690.9 244.1L691.2 243.7L691.5 243.2L691.8 242.8L692.1 242.4L692.3 242L692.6 241.6L692.9 241.2L693.1 240.7L693.4 240.3L693.7 239.9L693.9 239.4L694.2 239L694.4 238.6L694.7 238.1L694.9 237.7L695.2 237.3L695.4 236.8L695.7 236.4L695.9 236L696.2 235.6L696.4 235.1L696.7 234.7L696.9 234.3L697.2 233.8L697.4 233.4L697.7 232.9L697.9 232.5L698.2 232.1L698.4 231.6L698.6 231.2L698.9 230.7L699.1 230.3L699.4 229.9L699.6 229.4L699.9 229L700.1 228.6L700.3 228.1L700.6 227.7L700.8 227.3L701.1 226.8L701.3 226.4L701.6 226L701.9 225.5L702.1 225.1L702.4 224.7L702.7 224.3L702.9 223.8L703.2 223.4L703.5 223L703.7 222.6L704 222.2L704.3 221.7L704.6 221.3L704.8 220.9L705.1 220.5L705.4 220L705.6 219.6L705.9 219.2L706.1 218.7L706.4 218.3L706.6 217.9L706.9 217.4L707.1 217L707.4 216.6L707.6 216.1L707.8 215.7L708.1 215.3L708.3 214.8L708.6 214.4L708.8 213.9L709 213.5L709.3 213.1L709.5 212.6L709.8 212.2L710 211.7L710.3 211.3L710.5 210.9L710.7 210.4L711 210L711.2 209.5L711.4 209.1L711.7 208.7L711.9 208.2L712.1 207.8L712.4 207.3L712.6 206.9L712.9 206.4L713.1 206L713.3 205.6L713.6 205.1L713.8 204.7L714.1 204.3L714.4 203.9L714.6 203.4L714.9 203L715.2 202.6L715.5 202.2L715.8 201.8L716.1 201.4L716.4 201L716.7 200.6L717 200.2L717.3 199.8L717.7 199.4L718 199.1L718.3 198.7L718.6 198.3L718.9 197.9L719.3 197.5L719.6 197.1L719.9 196.7L720.2 196.4L720.5 196L720.8 195.6L721.1 195.2L721.4 194.8L721.7 194.4L722 194L722.3 193.6L722.6 193.2L723 192.8L723.3 192.4L723.6 192L723.9 191.6L724.2 191.2L724.5 190.8L724.8 190.4L725.1 190L725.4 189.6L725.7 189.2L726 188.8L726.3 188.4L726.6 188L726.9 187.6L727.3 187.3L727.6 186.9L727.9 186.5L728.2 186.1L728.6 185.7L728.9 185.4L729.2 185L729.6 184.6L729.9 184.2L730.2 183.8L730.6 183.5L730.9 183.1L731.2 182.7L731.6 182.4L731.9 182L732.2 181.6L732.6 181.3L732.9 180.9L733.3 180.5L733.6 180.2L734 179.8L734.3 179.5L734.7 179.1L735 178.8L735.4 178.4L735.7 178.1L736.1 177.7L736.5 177.4L736.8 177L737.2 176.7L737.6 176.3L737.9 176L738.3 175.6L738.7 175.3L739 175L739.4 174.6L739.8 174.3L740.1 173.9L740.5 173.6L740.9 173.3L741.3 173L741.6 172.6L742 172.3L742.4 172L742.8 171.7L743.2 171.3L743.6 171L743.9 170.7L744.3 170.4L744.7 170.1L745.1 169.8L745.5 169.5L745.9 169.2L746.3 168.8L746.7 168.5L747.1 168.2L747.5 167.9L747.9 167.6L748.3 167.3L748.7 167L749.1 166.7L749.5 166.4L749.8 166.1L750.2 165.7L750.6 165.4L751 165.1L751.4 164.8L751.8 164.4L752.1 164.1L752.5 163.8L752.9 163.5L753.3 163.1L753.6 162.8L754 162.5L754.4 162.1L754.8 161.8L755.2 161.5L755.6 161.2L756 160.9L756.3 160.6L756.7 160.3L757.2 160L757.6 159.7L758 159.4L758.4 159.1L758.8 158.9L759.3 158.6L759.7 158.4L760.1 158.1L760.5 157.9L761 157.6L761.4 157.4L761.9 157.1L762.3 156.9L762.7 156.7L763.2 156.4L763.6 156.2L764.1 156L764.5 155.7L765 155.5L765.4 155.3L765.9 155.1L766.3 154.8L766.8 154.6L767.2 154.4L767.7 154.2L768.1 154L768.6 153.8L769.1 153.6L769.5 153.4L770 153.2L770.4 153L770.9 152.8L771.3 152.6L771.8 152.4L772.3 152.2L772.7 152L773.2 151.8L773.6 151.5L774.1 151.3L774.5 151.1L775 150.9L775.4 150.6L775.8 150.4L776.3 150.1L776.7 149.9L777.2 149.7L777.6 149.4L778 149.2L778.5 149L778.9 148.7L779.4 148.5L779.8 148.3L780.3 148.1L780.8 148L781.3 147.8L781.7 147.7L782.2 147.6L782.7 147.5L783.2 147.3L783.7 147.2L784.2 147.1L784.7 147L785.2 146.9L785.6 146.8L786.1 146.7L786.6 146.6L787.1 146.5L787.6 146.5L788.1 146.4L788.6 146.4L789.1 146.4L789.6 146.4L790.1 146.4L790.6 146.4L791.1 146.4L791.6 146.4L792.1 146.4L792.6 146.4L793.1 146.4L793.6 146.4L794.1 146.4L794.6 146.4L795.1 146.4L795.6 146.4L796.1 146.4L796.6 146.4L797.1 146.4L797.6 146.4L798.1 146.4L798.6 146.5L799.1 146.5L799.6 146.6L800.1 146.7L800.6 146.8L801.1 146.9L801.6 147L802.1 147.1L802.6 147.2L803.1 147.3L803.5 147.4L804 147.5L804.5 147.7L805 147.8L805.5 147.9L806 148L806.5 148.2L806.9 148.3L807.4 148.5L807.9 148.7L808.3 148.8L808.8 149L809.3 149.2L809.7 149.4L810.2 149.6L810.7 149.8L811.1 150L811.6 150.2L812 150.4L812.5 150.6L813 150.8L813.4 151L813.9 151.2L814.3 151.4L814.8 151.6L815.2 151.8L815.7 152L816.1 152.3L816.6 152.5L817 152.7L817.5 152.9L817.9 153.2L818.4 153.4L818.8 153.6L819.3 153.9L819.7 154.1L820.1 154.3L820.6 154.6L821 154.8L821.5 155L821.9 155.3L822.3 155.5L822.8 155.8L823.2 156L823.6 156.3L824.1 156.5L824.5 156.7L825 157L825.4 157.2L825.8 157.5L826.2 157.8L826.7 158L827.1 158.3L827.5 158.6L827.9 158.9L828.3 159.2L828.7 159.5L829.1 159.8L829.5 160.1L829.9 160.4L830.3 160.8L830.6 161.1L831 161.4L831.3 161.8L831.7 162.2L832 162.5L832.4 162.9L832.7 163.3L833 163.6L833.4 164L833.7 164.4L834.1 164.7L834.4 165.1L834.8 165.5L835.1 165.8L835.5 166.2L835.8 166.5L836.2 166.9L836.5 167.2L836.9 167.5L837.3 167.9L837.7 168.2L838 168.5L838.4 168.9L838.8 169.2L839.2 169.5L839.6 169.8L839.9 170.2L840.3 170.5L840.7 170.8L841.1 171.2L841.4 171.5L841.8 171.8L842.2 172.1L842.6 172.5L842.9 172.8L843.3 173.2L843.7 173.5L844 173.8L844.4 174.2L844.7 174.5L845.1 174.9L845.5 175.3L845.8 175.6L846.2 176L846.5 176.3L846.9 176.7L847.2 177L847.6 177.4L847.9 177.8L848.2 178.1L848.6 178.5L848.9 178.9L849.2 179.3L849.6 179.6L849.9 180L850.2 180.4L850.5 180.8L850.8 181.2L851.1 181.6L851.4 182L851.7 182.4L852 182.8L852.3 183.2L852.5 183.7L852.8 184.1L853 184.5L853.3 185L853.5 185.4L853.8 185.8L854 186.3L854.2 186.7L854.5 187.2L854.7 187.6L854.9 188.1L855.2 188.5L855.4 188.9L855.6 189.4L855.9 189.8L856.1 190.3L856.3 190.7L856.6 191.2L856.8 191.6L857 192L857.3 192.5L857.5 192.9L857.8 193.4L858 193.8L858.2 194.2L858.5 194.7L858.7 195.1L859 195.6L859.2 196L859.4 196.4L859.7 196.9L859.9 197.3L860.1 197.8L860.4 198.2L860.6 198.6L860.8 199.1L861.1 199.5L861.3 200L861.5 200.4L861.7 200.9L862 201.3L862.2 201.8L862.4 202.2L862.6 202.7L862.8 203.1L863 203.6L863.2 204L863.4 204.5L863.6 205L863.8 205.4L864 205.9L864.2 206.3L864.4 206.8L864.6 207.3L864.8 207.7L865 208.2L865.2 208.7L865.4 209.1L865.6 209.6L865.7 210.1L865.9 210.5L866.1 211L866.3 211.5L866.4 211.9L866.6 212.4L866.8 212.9L867 213.3L867.1 213.8L867.3 214.3L867.5 214.8L867.6 215.2L867.8 215.7L867.9 216.2L868.1 216.7L868.3 217.1L868.4 217.6L868.6 218.1L868.7 218.6L868.9 219L869 219.5L869.2 220L869.3 220.5L869.5 221L869.6 221.4L869.7 221.9L869.9 222.4L870 222.9L870.2 223.4L870.3 223.8L870.4 224.3L870.6 224.8L870.7 225.3L870.8 225.8L871 226.3L871.1 226.7L871.2 227.2L871.4 227.7L871.5 228.2L871.6 228.7L871.7 229.2L871.9 229.6L872 230.1L872.1 230.6L872.2 231.1L872.3 231.6L872.4 232.1L872.5 232.6L872.6 233.1L872.7 233.6L872.8 234.1L872.9 234.5L873 235L873.1 235.5L873.2 236L873.3 236.5L873.4 237L873.5 237.5L873.6 238L873.7 238.5L873.9 238.9L874 239.4L874.2 239.9L874.3 240.4L874.5 240.8L874.7 241.3L874.9 241.8L875.1 242.2L875.2 242.7L875.4 243.2L875.6 243.6L875.7 244.1L875.9 244.6L876 245.1L876.2 245.5L876.3 246L876.4 246.5L876.5 247L876.6 247.5L876.7 248L876.8 248.5L876.9 249L877 249.5L877 250L877.1 250.5L877.2 251L877.3 251.4L877.4 251.9L877.5 252.4L877.6 252.9L877.7 253.4L877.9 253.9L878 254.4L878.2 254.8L878.4 255.3L878.5 255.8L878.7 256.2L878.9 256.7L879.1 257.2L879.2 257.6L879.4 258.1L879.7 258.6L879.9 259L880.1 259.5L880.3 259.9L880.6 260.3L880.9 260.7L881.2 261.1L881.6 261.4L882.1 261.6L882.6 261.7L883.1 261.8L883.6 261.9L884.1 262L884.5 262.1L885 262.2L885.5 262.3L886 262.4L886.5 262.4L887 262.5L887.5 262.5L888 262.6L888.5 262.6L889 262.7L889.5 262.7L890 262.8L890.5 262.8L891 262.9L891.5 262.9L892 263L892.5 263L893 263.1L893.5 263.1L894 263.2L894.5 263.2L895 263.2L895.5 263.3L896 263.3L896.5 263.4L897 263.4L897.5 263.4L898 263.4L898.5 263.5L899 263.5" fill="none" stroke="#000" stroke-width="5" stroke-dasharray="0.95 8.55" stroke-dashoffset="-3"/>
<path d="M488.5 237.6L488.5 237.6L488.7 237.6L489 237.5L489.2 237.5L489.5 237.4L489.7 237.3L490 237.3L490.2 237.2L490.5 237.2L490.7 237.1L490.9 237.1L491.2 237L491.4 237L491.7 236.9L491.9 236.9L492.2 236.8L492.4 236.8L492.7 236.7L492.9 236.7L493.1 236.6L493.4 236.6L493.6 236.5L493.9 236.4L494.1 236.4L494.4 236.3L494.6 236.3L494.9 236.2L495.1 236.2L495.3 236.1L495.6 236L495.8 236L496.1 235.9L496.3 235.9L496.6 235.8L496.8 235.8L497 235.7L497.3 235.6L497.5 235.6L497.8 235.5L498 235.5L498.3 235.4L498.5 235.3L498.7 235.3L499 235.2L499.2 235.2L499.5 235.1L499.7 235L500 235L500.2 234.9L500.4 234.8L500.6 234.8M515.7 230.3L515.8 230.3L516 230.2L516.3 230.2L516.5 230.2L516.8 230.1L517 230.1L517.2 230L517.5 230L517.7 229.9L518 229.9L518.2 229.9L518.5 229.8L518.7 229.8L519 229.7L519.2 229.7L519.5 229.7L519.7 229.7L520 229.6L520.2 229.6L520.5 229.6L520.7 229.6L521 229.6L521.2 229.6L521.5 229.6L521.7 229.6L522 229.6L522.2 229.6L522.5 229.6L522.7 229.6L523 229.7L523.2 229.7L523.5 229.7L523.7 229.7L524 229.7L524.2 229.7L524.5 229.8L524.7 229.8L525 229.8L525.2 229.8L525.5 229.9L525.7 229.9L526 229.9L526.2 229.9L526.5 230L526.7 230M539.8 240.4L539.8 240.4L540 240.6L540.2 240.8L540.4 240.9L540.5 241.1L540.7 241.3L540.9 241.5L541.1 241.6L541.3 241.8L541.4 242L541.6 242.2L541.8 242.4L541.9 242.5L542.1 242.7L542.3 242.9L542.5 243.1L542.6 243.3L542.8 243.5L543 243.6L543.1 243.8L543.3 244L543.5 244.2L543.6 244.4L543.8 244.6L544 244.8L544.1 244.9L544.3 245.1L544.5 245.3L544.6 245.5L544.8 245.7L545 245.9L545.1 246.1L545.3 246.3L545.5 246.4L545.6 246.6L545.8 246.8L545.9 247L546.1 247.2L546.3 247.4L546.4 247.6L546.6 247.8L546.8 248L546.9 248.2L547.1 248.3L547.2 248.5L547.4 248.7L547.6 248.9L547.7 249.1L547.9 249.3L548.1 249.5L548.2 249.7L548.4 249.9L548.5 250.1L548.7 250.2L548.9 250.4L549 250.6L549.2 250.8L549.4 251L549.5 251.2L549.7 251.4L549.8 251.5M560.9 264.5L561 264.6L561.3 264.7L561.5 264.8L561.7 264.9L561.9 265L562.2 265.2L562.4 265.3L562.6 265.4L562.8 265.5L563.1 265.6L563.3 265.7L563.5 265.8L563.7 265.9L564 266L564.2 266.1L564.4 266.2L564.7 266.3L564.9 266.4L565.1 266.5L565.4 266.6L565.6 266.6L565.8 266.7L566.1 266.8L566.3 266.9L566.5 267L566.8 267.1L567 267.1L567.2 267.2L567.5 267.3L567.7 267.4L568 267.4L568.2 267.5L568.4 267.6L568.7 267.7L568.9 267.7L569.2 267.8L569.4 267.9L569.6 267.9L569.9 268L570.1 268.1L570.4 268.1L570.6 268.2L570.9 268.2L571.1 268.3L571.3 268.4L571.6 268.4L571.8 268.5L572 268.5M588 271L588.1 271L588.4 271.1L588.6 271.1L588.9 271.1L589.1 271.2L589.4 271.2L589.6 271.3L589.9 271.3L590.1 271.3L590.4 271.4L590.6 271.4L590.9 271.5L591.1 271.5L591.3 271.5L591.6 271.6L591.8 271.6L592.1 271.7L592.3 271.7L592.6 271.7L592.8 271.8L593.1 271.8L593.3 271.9L593.6 271.9L593.8 271.9L594.1 272L594.3 272L594.6 272.1L594.8 272.1L595.1 272.1L595.3 272.2L595.5 272.2L595.8 272.3L596 272.3L596.3 272.3L596.5 272.4L596.8 272.4L597 272.4L597.3 272.5L597.5 272.5L597.8 272.6L598 272.6M614.3 275L614.3 275L614.6 275L614.8 275L615.1 275L615.3 275L615.6 275L615.8 275L616.1 275L616.3 275L616.6 275L616.8 275L617.1 275L617.3 275L617.6 275L617.8 275L618.1 275L618.3 275L618.6 275L618.8 275L619.1 275L619.3 275L619.6 275L619.8 275L620.1 275L620.3 275L620.6 275L620.8 275L621.1 275L621.3 275L621.6 275L621.8 275L622.1 275L622.3 275L622.6 275L622.8 275L623.1 275L623.3 275L623.6 275L623.8 275L624.1 275L624.3 275L624.6 275L624.8 275L625.1 275L625.3 275M641.4 273.6L641.5 273.6L641.8 273.5L642 273.5L642.3 273.5L642.5 273.4L642.7 273.4L643 273.3L643.2 273.3L643.5 273.2L643.7 273.2L644 273.1L644.2 273L644.4 273L644.7 272.9L644.9 272.8L645.2 272.8L645.4 272.7L645.7 272.6L645.9 272.6L646.1 272.5L646.4 272.4L646.6 272.3L646.8 272.3L647.1 272.2L647.3 272.1L647.6 272L647.8 271.9L648 271.8L648.3 271.8L648.5 271.7L648.7 271.6L649 271.5L649.2 271.4L649.4 271.3L649.7 271.3L649.9 271.2L650.1 271.1L650.4 271L650.6 270.9L650.8 270.8L651.1 270.7L651.3 270.6L651.5 270.6L651.8 270.5L652 270.4L652.3 270.3L652.5 270.2L652.5 270.2M668.5 262.5L668.7 262.4L668.9 262.3L669.2 262.2L669.4 262.1L669.6 262L669.8 261.9L670.1 261.8L670.3 261.7L670.5 261.6L670.8 261.5L671 261.4L671.2 261.3L671.5 261.2L671.7 261.1L671.9 261L672.1 260.9L672.4 260.8L672.6 260.7L672.8 260.6L673.1 260.5L673.3 260.4L673.5 260.3L673.8 260.2L674 260.1L674.2 260L674.5 259.9L674.7 259.9L674.9 259.8L675.1 259.7L675.4 259.6L675.6 259.5L675.8 259.4L676.1 259.3L676.3 259.1L676.5 259L676.7 258.9L677 258.8L677.2 258.7L677.4 258.6L677.6 258.5L677.9 258.4L678.1 258.3L678.3 258.2L678.5 258.1L678.8 257.9L679 257.8L679.2 257.7L679.4 257.6L679.6 257.5M694.7 246.4L694.7 246.4L694.9 246.2L695.1 246.1L695.3 245.9L695.6 245.8L695.8 245.6L696 245.5L696.2 245.3L696.4 245.2L696.6 245.1L696.8 244.9L697 244.8L697.2 244.6L697.4 244.5L697.6 244.3L697.8 244.2L698 244.1L698.2 243.9L698.4 243.8L698.6 243.6L698.8 243.5L699 243.3L699.2 243.2L699.4 243.1L699.7 242.9L699.9 242.8L700.1 242.6L700.3 242.5L700.5 242.3L700.7 242.2L700.9 242.1L701.1 241.9L701.3 241.8L701.5 241.6L701.7 241.5L701.9 241.3L702.1 241.2L702.3 241L702.5 240.9L702.7 240.7L702.9 240.6L703.1 240.4L703.3 240.3L703.5 240.1L703.7 240L703.9 239.8L704.1 239.7L704.3 239.5L704.5 239.4L704.7 239.2L704.9 239.1L705.1 238.9L705.3 238.7L705.5 238.6L705.7 238.4L705.7 238.4M720.8 223.5L721 223.3L721.2 223.2L721.4 223L721.5 222.9L721.7 222.7L721.9 222.5L722.1 222.4L722.3 222.2L722.5 222.1L722.7 221.9L722.9 221.7L723.1 221.6L723.3 221.4L723.5 221.3L723.7 221.1L723.9 221L724.1 220.8L724.3 220.6L724.5 220.5L724.6 220.3L724.8 220.2L725 220L725.2 219.9L725.4 219.7L725.6 219.6L725.8 219.4L726 219.3L726.2 219.1L726.4 218.9L726.6 218.8L726.8 218.6L727 218.5L727.2 218.3L727.4 218.2L727.6 218L727.8 217.9L728 217.7L728.2 217.6L728.4 217.4L728.6 217.3L728.8 217.1L729 217L729.2 216.8L729.4 216.7L729.6 216.5L729.8 216.4L730 216.2L730.2 216.1L730.4 216L730.6 215.8L730.8 215.7L731 215.5L731.2 215.4L731.4 215.2L731.6 215.1L731.8 214.9L732 214.8M746.2 205L746.2 205L746.5 204.8L746.7 204.7L746.9 204.5L747.1 204.4L747.3 204.3L747.5 204.1L747.7 204L747.9 203.8L748.1 203.7L748.3 203.6L748.5 203.4L748.7 203.3L748.9 203.1L749.1 203L749.3 202.9L749.6 202.7L749.8 202.6L750 202.4L750.2 202.3L750.4 202.1L750.6 202L750.8 201.9L751 201.7L751.2 201.6L751.4 201.4L751.6 201.3L751.8 201.2L752 201L752.2 200.9L752.5 200.7L752.7 200.6L752.9 200.5L753.1 200.3L753.3 200.2L753.5 200L753.7 199.9L753.9 199.8L754.1 199.6L754.3 199.5L754.5 199.4L754.7 199.2L754.9 199.1L755.2 198.9L755.4 198.8L755.6 198.7L755.8 198.5L756 198.4L756.2 198.3L756.4 198.1L756.6 198L756.8 197.9L757 197.7L757.3 197.6L757.5 197.4L757.7 197.3L757.7 197.3M772.4 188.5L772.5 188.5L772.7 188.3L772.9 188.2L773.1 188.1L773.4 188L773.6 187.8L773.8 187.7L774 187.6L774.2 187.5L774.5 187.4L774.7 187.2L774.9 187.1L775.1 187L775.3 186.9L775.5 186.8L775.8 186.6L776 186.5L776.2 186.4L776.4 186.3L776.6 186.2L776.9 186L777.1 185.9L777.3 185.8L777.5 185.7L777.7 185.6L778 185.4L778.2 185.3L778.4 185.2L778.6 185.1L778.9 185L779.1 184.9L779.3 184.8L779.5 184.6L779.7 184.5L780 184.4L780.2 184.3L780.4 184.2L780.6 184.1L780.9 184L781.1 183.9L781.3 183.7L781.5 183.6L781.8 183.5L782 183.4L782.2 183.3L782.4 183.2L782.7 183.1L782.9 183L783.1 182.9L783.3 182.8L783.6 182.7L783.8 182.6L784 182.5M799 177L799 177L799.3 176.9L799.5 176.9L799.8 176.8L800 176.7L800.3 176.7L800.5 176.6L800.7 176.6L801 176.5L801.2 176.5L801.5 176.4L801.7 176.3L802 176.3L802.2 176.2L802.5 176.2L802.7 176.1L802.9 176.1L803.2 176L803.4 176L803.7 175.9L803.9 175.9L804.2 175.8L804.4 175.8L804.7 175.7L804.9 175.7L805.2 175.6L805.4 175.6L805.6 175.5L805.9 175.5L806.1 175.4L806.4 175.4L806.6 175.3L806.9 175.3L807.1 175.3L807.4 175.2L807.6 175.2L807.9 175.1L808.1 175.1L808.3 175L808.6 175L808.8 175L809.1 174.9L809.3 174.9L809.6 174.8L809.8 174.8L810.1 174.8L810.3 174.7L810.4 174.7M826.3 172.6L826.4 172.6L826.7 172.6L826.9 172.6L827.2 172.6L827.4 172.6L827.7 172.6L827.9 172.6L828.2 172.7L828.4 172.7L828.7 172.7L828.9 172.7L829.2 172.7L829.4 172.8L829.7 172.8L829.9 172.8L830.2 172.9L830.4 172.9L830.7 172.9L830.9 173L831.2 173L831.4 173L831.6 173.1L831.9 173.1L832.1 173.1L832.4 173.2L832.6 173.2L832.9 173.3L833.1 173.3L833.4 173.4L833.6 173.4L833.9 173.5L834.1 173.5L834.4 173.6L834.6 173.6L834.8 173.7L835.1 173.7L835.3 173.8L835.6 173.8L835.8 173.9L836.1 173.9L836.3 174L836.6 174L836.8 174.1L837 174.1M851.6 180.8L851.7 180.9L851.9 181L852.1 181.2L852.3 181.3L852.5 181.5L852.7 181.7L852.9 181.8L853.1 182L853.2 182.2L853.4 182.3L853.6 182.5L853.8 182.7L853.9 182.9L854.1 183.1L854.3 183.3L854.4 183.4L854.6 183.6L854.8 183.8L854.9 184L855.1 184.2L855.3 184.4L855.4 184.6L855.6 184.8L855.7 185L855.9 185.2L856 185.4L856.2 185.6L856.3 185.8L856.5 186L856.6 186.2L856.8 186.4L856.9 186.6L857.1 186.8L857.2 187L857.4 187.2L857.5 187.4L857.7 187.6L857.8 187.8L858 188L858.1 188.2L858.3 188.4L858.4 188.6L858.6 188.8L858.7 189L858.7 189M866 202.3L866 202.4L866.1 202.6L866.3 202.8L866.4 203L866.5 203.2L866.6 203.5L866.7 203.7L866.8 203.9L866.9 204.1L867.1 204.4L867.2 204.6L867.3 204.8L867.4 205L867.5 205.3L867.6 205.5L867.7 205.7L867.9 205.9L868 206.1L868.1 206.4L868.2 206.6L868.3 206.8L868.5 207L868.6 207.2L868.7 207.5L868.8 207.7L868.9 207.9L869.1 208.1L869.2 208.3L869.3 208.5L869.4 208.8L869.6 209L869.7 209.2L869.8 209.4L870 209.6L870.1 209.8L870.2 210L870.3 210.3L870.5 210.5L870.6 210.7L870.7 210.9L870.9 211.1L871 211.3L871.1 211.5L871.3 211.7L871.4 212L871.5 212.2L871.7 212.4L871.8 212.6L871.9 212.8L872.1 213L872.2 213.2L872.3 213.4L872.5 213.7L872.6 213.9L872.7 214.1L872.8 214.3L872.9 214.5L873.1 214.7L873.2 215L873.3 215.2L873.4 215.4L873.5 215.6L873.7 215.9L873.8 216.1L873.9 216.3L874 216.5L874.1 216.8L874.2 217L874.3 217.2M876 221.9L876.1 222.1L876.1 222.4L876.2 222.6L876.3 222.9L876.4 223.1L876.4 223.3L876.5 223.6L876.6 223.8L876.7 224.1L876.7 224.3L876.8 224.5L876.9 224.8L876.9 225L877 225.3L877.1 225.5L877.2 225.7L877.2 226L877.3 226.2L877.4 226.5L877.4 226.7L877.5 226.9L877.6 227.2L877.7 227.4L877.7 227.7L877.8 227.9L877.9 228.1L878 228.4L878 228.6L878.1 228.8L878.2 229.1L878.3 229.3L878.3 229.6L878.4 229.8L878.5 230L878.6 230.3L878.7 230.5L878.7 230.7L878.8 231L878.9 231.2L879 231.5L879.1 231.7L879.2 231.9L879.3 232.2L879.3 232.4L879.4 232.6L879.5 232.8L879.6 233.1L879.7 233.3L879.9 233.5L880 233.8L880.1 234L880.2 234.2L880.3 234.4L880.4 234.7L880.5 234.9L880.6 235.1L880.7 235.3L880.8 235.6L880.9 235.8L881.1 236L881.2 236.2L881.3 236.4L881.4 236.7L881.5 236.9L881.6 237.1L881.8 237.3L881.9 237.6L882 237.8L882.1 238L882.2 238.2L882.4 238.4L882.5 238.6L882.6 238.9L882.7 239.1L882.9 239.3L883 239.5L883.1 239.7L883.3 239.9L883.4 240.1L883.5 240.4L883.7 240.6L883.8 240.8L883.9 241L884.1 241.2L884.2 241.4L884.3 241.6L884.5 241.8L884.6 242L884.8 242.2L884.9 242.4L885.1 242.6L885.2 242.8L885.4 243L885.5 243.2L885.7 243.4L885.8 243.6L886 243.8L886.1 244M899.5 256.5L899.5 256.5L899.8 256.6L900 256.7L900.2 256.7L900.5 256.8L900.7 256.9L900.9 257L901.2 257L901.4 257.1L901.7 257.2L901.9 257.3L902.1 257.3L902.4 257.4L902.6 257.4L902.9 257.5L903.1 257.6L903.4 257.6L903.6 257.7L903.8 257.7L904.1 257.8L904.3 257.8L904.6 257.9L904.8 258L905.1 258L905.3 258.1L905.6 258.1L905.8 258.2L906 258.2L906.3 258.2L906.5 258.3L906.8 258.3L907 258.4L907.3 258.4L907.5 258.5L907.8 258.5L908 258.6L908.3 258.6L908.5 258.6L908.8 258.7L909 258.7L909.3 258.8L909.5 258.8L909.7 258.8L910 258.9L910.2 258.9L910.5 259L910.7 259L910.8 259M925.7 260.8L925.9 260.8L926.1 260.9L926.4 260.9L926.6 261L926.9 261L927.1 261L927.4 261.1L927.6 261.1L927.8 261.2L928.1 261.2L928.3 261.3L928.6 261.3L928.8 261.4L929.1 261.4L929.3 261.5L929.6 261.5L929.8 261.6L930.1 261.6L930.3 261.7L930.5 261.7L930.8 261.8L931 261.8L931.3 261.9L931.5 262L931.8 262L932 262.1L932.2 262.1L932.5 262.2L932.7 262.3L933 262.3L933.2 262.4L933.5 262.5L933.7 262.5L933.9 262.6L934.2 262.6L934.4 262.7L934.7 262.8L934.9 262.8L935.1 262.9L935.4 263L935.6 263.1L935.9 263.1L936.1 263.2L936.3 263.3L936.6 263.3L936.8 263.4L937.1 263.5L937.3 263.6L937.5 263.6L937.8 263.7L938 263.8M952.7 271.5L952.8 271.6L953 271.7L953.3 271.8L953.5 271.9L953.7 272.1L953.9 272.2L954.1 272.3L954.3 272.4L954.6 272.6L954.8 272.7L955 272.8L955.2 273L955.4 273.1L955.6 273.2L955.8 273.3L956.1 273.5L956.3 273.6L956.5 273.7L956.7 273.9L956.9 274L957.1 274.1L957.3 274.2L957.6 274.4L957.8 274.5L958 274.6L958.2 274.8L958.4 274.9L958.6 275L958.8 275.2L959 275.3L959.3 275.4L959.5 275.6L959.7 275.7L959.9 275.8L960.1 276L960.3 276.1L960.5 276.2L960.7 276.4L961 276.5L961.2 276.6L961.4 276.8L961.6 276.9L961.8 277L962 277.2L962.2 277.3L962.4 277.4L962.6 277.6L962.8 277.7L963.1 277.8L963.3 278L963.5 278.1L963.7 278.2L963.9 278.4L964.1 278.5L964.3 278.7L964.5 278.8L964.7 278.9L964.9 279.1L965.2 279.2L965.4 279.3L965.6 279.5L965.8 279.6L966 279.8L966.2 279.9L966.4 280L966.6 280.2L966.8 280.3L967 280.4L967.2 280.6L967.4 280.7L967.7 280.9L967.9 281L968.1 281.1L968.3 281.3L968.5 281.4L968.7 281.6L968.9 281.7L969.1 281.8L969.3 282L969.5 282.1L969.7 282.3L969.9 282.4L970.1 282.5L970.4 282.7L970.6 282.8L970.8 283L971 283.1L971.2 283.2L971.4 283.4L971.6 283.5L971.8 283.7L972 283.8L972.2 283.9L972.4 284.1L972.6 284.2L972.8 284.4L973 284.5L973.2 284.6L973.5 284.8L973.7 284.9L973.9 285.1L974.1 285.2L974.3 285.4L974.5 285.5L974.7 285.6L974.9 285.8L975.1 285.9L975.3 286.1L975.5 286.2" fill="none" stroke="#0000ff" stroke-width="3.6"/>
<circle cx="257.1" cy="386.1" r="6.5" fill="#000"/>
<circle cx="257.3" cy="452.5" r="5.6" fill="#fff" stroke="#000" stroke-width="1.7"/>
<circle cx="198.4" cy="536.1" r="5.9" fill="#fff" stroke="#000" stroke-width="2"/>
<rect x="252" y="479.4" width="11" height="8.1" fill="#000"/>
<path d="M257 470L264.5 483.9L249.7 483.9Z" fill="#000"/>
<path d="M257.3 466.5L262.8 476L251.8 476Z" fill="#fff" stroke="#000" stroke-width="4" stroke-linejoin="miter"/>
<path d="M198.4 553.2L206.3 565.7L190.4 565.7Z" fill="#000"/>
<path d="M198.4 567.8L205.4 576.4L191.4 576.4Z" fill="#fff" stroke="#000" stroke-width="1.8"/>
<rect x="192.3" y="583.1" width="11.8" height="11.4" fill="#000"/>
<path d="M861.5 124.5V286.6M850.1 124.5H872.6M850.5 286.6H871.9" stroke="#000" stroke-width="4.8" fill="none"/>
<path d="M850.5 216.5H869.8M850.5 205.5V227.6M869.8 205.5V227.6" stroke="#000" stroke-width="4.4" fill="none"/>
<path d="M480.6 81.4L498.6 136.2" stroke="#00008c" stroke-width="2.3" fill="none"/><path d="M501.1 143.8L494.6 135.4L501.4 133.2Z" fill="#00008c"/>
<path d="M666.7 96.5L719 187.1" stroke="#000" stroke-width="2.1" fill="none"/><path d="M723 194L714.9 187.1L721.1 183.5Z" fill="#000"/>
<path d="M738.2 395.7L788.7 283" stroke="#ff0000" stroke-width="2.1" fill="none"/><path d="M792 275.7L791.2 286.3L784.6 283.4Z" fill="#ff0000"/>
<path d="M822 458.8L901.9 286" stroke="#ff00ff" stroke-width="2.3" fill="none"/><path d="M905.3 278.7L904.4 289.3L897.8 286.3Z" fill="#ff00ff"/>
<rect x="179" y="24.8" width="805.8" height="595.2" fill="none" stroke="#000" stroke-width="3.6"/>
<path d="M198.2 24.8V36.8M198.2 620V608M394.9 24.8V36.8M394.9 620V608M591.5 24.8V36.8M591.5 620V608M788.2 24.8V36.8M788.2 620V608M984.8 24.8V36.8M984.8 620V608M189.2 24.8V30.8M189.2 620V614M257.4 24.8V30.8M257.4 620V614M292 24.8V30.8M292 620V614M316.6 24.8V30.8M316.6 620V614M335.7 24.8V30.8M335.7 620V614M351.2 24.8V30.8M351.2 620V614M364.4 24.8V30.8M364.4 620V614M375.8 24.8V30.8M375.8 620V614M385.9 24.8V30.8M385.9 620V614M454 24.8V30.8M454 620V614M488.7 24.8V30.8M488.7 620V614M513.2 24.8V30.8M513.2 620V614M532.3 24.8V30.8M532.3 620V614M547.9 24.8V30.8M547.9 620V614M561 24.8V30.8M561 620V614M572.4 24.8V30.8M572.4 620V614M582.5 24.8V30.8M582.5 620V614M650.7 24.8V30.8M650.7 620V614M685.3 24.8V30.8M685.3 620V614M709.9 24.8V30.8M709.9 620V614M729 24.8V30.8M729 620V614M744.5 24.8V30.8M744.5 620V614M757.7 24.8V30.8M757.7 620V614M769.1 24.8V30.8M769.1 620V614M779.2 24.8V30.8M779.2 620V614M847.3 24.8V30.8M847.3 620V614M882 24.8V30.8M882 620V614M906.5 24.8V30.8M906.5 620V614M925.6 24.8V30.8M925.6 620V614M941.2 24.8V30.8M941.2 620V614M954.3 24.8V30.8M954.3 620V614M965.7 24.8V30.8M965.7 620V614M975.8 24.8V30.8M975.8 620V614M179 93.6H191M984.8 93.6H972.8M179 322.5H191M984.8 322.5H972.8M179 551.5H191M984.8 551.5H972.8M179 602.3H185M984.8 602.3H978.8M179 587H185M984.8 587H978.8M179 573.7H185M984.8 573.7H978.8M179 562H185M984.8 562H978.8M179 482.6H185M984.8 482.6H978.8M179 442.3H185M984.8 442.3H978.8M179 413.7H185M984.8 413.7H978.8M179 391.5H185M984.8 391.5H978.8M179 373.3H185M984.8 373.3H978.8M179 358H185M984.8 358H978.8M179 344.7H185M984.8 344.7H978.8M179 333H185M984.8 333H978.8M179 253.6H185M984.8 253.6H978.8M179 213.3H185M984.8 213.3H978.8M179 184.7H185M984.8 184.7H978.8M179 162.5H185M984.8 162.5H978.8M179 144.4H185M984.8 144.4H978.8M179 129.1H185M984.8 129.1H978.8M179 115.8H185M984.8 115.8H978.8M179 104.1H185M984.8 104.1H978.8" stroke="#000" stroke-width="3.6" fill="none"/>
<text transform="translate(84 111.8) scale(0.93 1)" font-family="Liberation Serif" font-size="48">10</text>
<text transform="translate(130.1 85.8) scale(0.87 1)" font-family="Liberation Serif" font-size="31">-30</text>
<text transform="translate(84 340.8) scale(0.93 1)" font-family="Liberation Serif" font-size="48">10</text>
<text transform="translate(130.1 314.8) scale(0.87 1)" font-family="Liberation Serif" font-size="31">-31</text>
<text transform="translate(84 569.7) scale(0.93 1)" font-family="Liberation Serif" font-size="48">10</text>
<text transform="translate(130.1 543.7) scale(0.87 1)" font-family="Liberation Serif" font-size="31">-32</text>
<text transform="translate(169.4 677.9) scale(0.93 1)" font-family="Liberation Serif" font-size="48">10</text>
<text transform="translate(214.6 652.4) scale(0.855 1)" font-family="Liberation Serif" font-size="31">0</text>
<text transform="translate(366.1 677.9) scale(0.93 1)" font-family="Liberation Serif" font-size="48">10</text>
<text transform="translate(411.3 652.4) scale(0.855 1)" font-family="Liberation Serif" font-size="31">1</text>
<text transform="translate(562.8 677.9) scale(0.93 1)" font-family="Liberation Serif" font-size="48">10</text>
<text transform="translate(608 652.4) scale(0.855 1)" font-family="Liberation Serif" font-size="31">2</text>
<text transform="translate(759.4 677.9) scale(0.93 1)" font-family="Liberation Serif" font-size="48">10</text>
<text transform="translate(804.6 652.4) scale(0.855 1)" font-family="Liberation Serif" font-size="31">3</text>
<text transform="translate(956 677.9) scale(0.93 1)" font-family="Liberation Serif" font-size="48">10</text>
<text transform="translate(1001.2 652.4) scale(0.855 1)" font-family="Liberation Serif" font-size="31">4</text>
<text x="618.3" y="717.5" font-family="Liberation Serif" font-size="48">T</text>
<text x="646.5" y="735.8" font-family="Liberation Serif" font-size="26">e</text>
<text x="658" y="717.5" font-family="Liberation Serif" font-size="48">, eV</text>
<g transform="translate(50.5 459.2) rotate(-90)" font-family="Liberation Sans"><text x="0" y="0" font-size="40">Q</text><text x="29" y="18.7" font-size="25">abs</text><text x="68" y="0" font-size="40">, L</text><text x="113" y="18.7" font-size="25">Z</text><text x="125" y="0" font-size="40">, W m</text><text x="229" y="-26" font-size="25">3</text></g>
<text transform="translate(350.2 71.6) scale(1.014 1)" font-family="Liberation Serif" font-weight="bold" font-size="32" fill="#00008c">AIM ADPAK</text>
<text x="198" y="243.3" font-family="Liberation Serif" font-weight="bold" font-size="32" fill="#00008c">ADPAK</text>
<text x="406.5" y="187.7" font-family="Liberation Serif" font-weight="bold" font-size="36" fill="#000">EM</text>
<text transform="translate(601.2 86.3) scale(1.02 1)" font-family="Liberation Serif" font-weight="bold" font-size="36" fill="#000">AIM (1977)</text>
<text x="881.8" y="121" font-family="Liberation Serif" font-weight="bold" font-size="36" fill="#000">W</text>
<text x="918.5" y="135.7" font-family="Liberation Serif" font-weight="bold" font-size="22" fill="#000">exp</text>
<text x="459.2" y="321.2" font-family="Liberation Serif" font-weight="bold" font-size="32" fill="#0000ff">CA-LARGE</text>
<text transform="translate(372.8 367.9) scale(1.035 1)" font-family="Liberation Serif" font-weight="bold" font-size="36" fill="#008000">LPF</text>
<text transform="translate(531.8 432.5) scale(0.988 1)" font-family="Liberation Serif" font-weight="bold" font-size="32" fill="#ff0000">ADAS (Cowan/PWB)</text>
<text transform="translate(715.6 492.1) scale(0.978 1)" font-family="Liberation Serif" font-weight="bold" font-size="32" fill="#ff00ff">ADAS projected</text>
</svg>
</body></html>
